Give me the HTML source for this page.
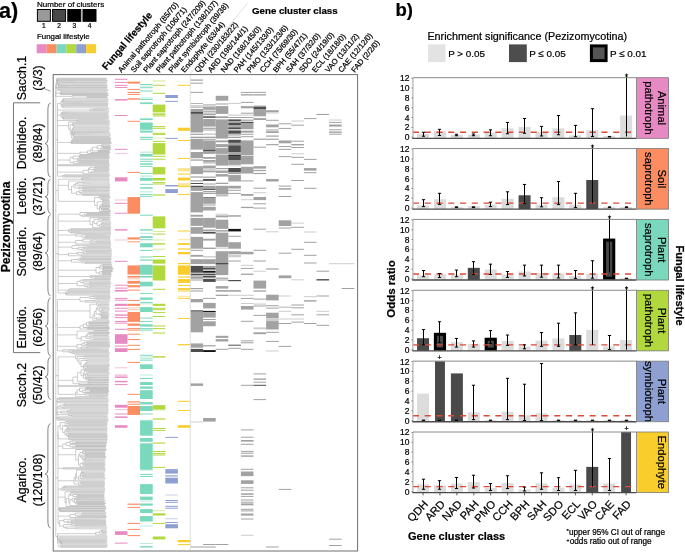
<!DOCTYPE html><html><head><meta charset="utf-8"><style>html,body{margin:0;padding:0;background:#fff;} svg text{stroke:#000;stroke-width:0.22px;}body{width:685px;height:552px;overflow:hidden;}</style></head><body><svg width="685" height="552" viewBox="0 0 685 552" style="display:block;font-family:'Liberation Sans', sans-serif;will-change:transform"><rect x="0" y="0" width="685" height="552" fill="#fff"/><g shape-rendering="auto"><rect x="114.9" y="78.8" width="12.6" height="1" fill="#E78AC3"/><rect x="114.9" y="81.9" width="12.6" height="1" fill="#E78AC3"/><rect x="114.9" y="84.8" width="12.6" height="1" fill="#E78AC3"/><rect x="114.9" y="86.9" width="12.6" height="1" fill="#E78AC3"/><rect x="114.9" y="99.1" width="12.6" height="1.5" fill="#E78AC3"/><rect x="114.9" y="115" width="12.6" height="1" fill="#E78AC3"/><rect x="114.9" y="148.8" width="12.6" height="1" fill="#E78AC3"/><rect x="114.9" y="153.1" width="12.6" height="1" fill="#E78AC3" fill-opacity="0.5"/><rect x="114.9" y="177.3" width="12.6" height="4.1" fill="#E78AC3"/><rect x="114.9" y="199.5" width="12.6" height="1" fill="#E78AC3" fill-opacity="0.5"/><rect x="114.9" y="202.8" width="12.6" height="1" fill="#E78AC3"/><rect x="114.9" y="212.7" width="12.6" height="1" fill="#E78AC3"/><rect x="114.9" y="229.2" width="12.6" height="1.4" fill="#E78AC3"/><rect x="114.9" y="239.5" width="12.6" height="1" fill="#E78AC3" fill-opacity="0.5"/><rect x="114.9" y="260.8" width="12.6" height="1" fill="#E78AC3"/><rect x="114.9" y="284.7" width="12.6" height="1" fill="#E78AC3"/><rect x="114.9" y="287.6" width="12.6" height="1" fill="#E78AC3"/><rect x="114.9" y="289.9" width="12.6" height="1.7" fill="#E78AC3"/><rect x="114.9" y="297.9" width="12.6" height="1" fill="#E78AC3"/><rect x="114.9" y="299.7" width="12.6" height="1" fill="#E78AC3"/><rect x="114.9" y="303.8" width="12.6" height="2.1" fill="#E78AC3"/><rect x="114.9" y="307.8" width="12.6" height="1" fill="#E78AC3"/><rect x="114.9" y="310.6" width="12.6" height="1" fill="#E78AC3"/><rect x="114.9" y="314.4" width="12.6" height="1.4" fill="#E78AC3"/><rect x="114.9" y="317.1" width="12.6" height="1" fill="#E78AC3"/><rect x="114.9" y="320.9" width="12.6" height="1" fill="#E78AC3"/><rect x="114.9" y="322.6" width="12.6" height="1" fill="#E78AC3"/><rect x="114.9" y="328.8" width="12.6" height="1" fill="#E78AC3"/><rect x="114.9" y="334.2" width="12.6" height="9.6" fill="#E78AC3"/><rect x="114.9" y="345.6" width="12.6" height="1" fill="#E78AC3"/><rect x="114.9" y="348.2" width="12.6" height="3.8" fill="#E78AC3"/><rect x="114.9" y="367.3" width="12.6" height="1" fill="#E78AC3" fill-opacity="0.5"/><rect x="114.9" y="374.4" width="12.6" height="3" fill="#E78AC3" fill-opacity="0.5"/><rect x="114.9" y="376.9" width="12.6" height="1" fill="#E78AC3"/><rect x="114.9" y="380.9" width="12.6" height="1.4" fill="#E78AC3"/><rect x="114.9" y="384.1" width="12.6" height="1" fill="#E78AC3"/><rect x="114.9" y="404.8" width="12.6" height="2.9" fill="#E78AC3"/><rect x="114.9" y="409" width="12.6" height="1" fill="#E78AC3" fill-opacity="0.5"/><rect x="114.9" y="413.1" width="12.6" height="1" fill="#E78AC3" fill-opacity="0.5"/><rect x="114.9" y="413.9" width="12.6" height="1" fill="#E78AC3" fill-opacity="0.5"/><rect x="114.9" y="416.4" width="12.6" height="1.5" fill="#E78AC3"/><rect x="114.9" y="425.2" width="12.6" height="2.6" fill="#E78AC3"/><rect x="114.9" y="531.2" width="12.6" height="3.7" fill="#E78AC3"/><rect x="114.9" y="542.6" width="12.6" height="1" fill="#E78AC3"/><rect x="127.5" y="81.6" width="12.6" height="2" fill="#FC8D62"/><rect x="127.5" y="88.9" width="12.6" height="1" fill="#FC8D62"/><rect x="127.5" y="92" width="12.6" height="1" fill="#FC8D62"/><rect x="127.5" y="93.9" width="12.6" height="1" fill="#FC8D62"/><rect x="127.5" y="98.3" width="12.6" height="1.4" fill="#FC8D62"/><rect x="127.5" y="120.8" width="12.6" height="1" fill="#FC8D62"/><rect x="127.5" y="171.9" width="12.6" height="1" fill="#FC8D62"/><rect x="127.5" y="197.1" width="12.6" height="16.6" fill="#FC8D62"/><rect x="127.5" y="237.4" width="12.6" height="2.1" fill="#FC8D62"/><rect x="127.5" y="241" width="12.6" height="1" fill="#FC8D62" fill-opacity="0.5"/><rect x="127.5" y="241.5" width="12.6" height="1" fill="#FC8D62" fill-opacity="0.5"/><rect x="127.5" y="265.4" width="12.6" height="9.1" fill="#FC8D62"/><rect x="127.5" y="275.9" width="12.6" height="1.7" fill="#FC8D62"/><rect x="127.5" y="278.3" width="12.6" height="1" fill="#FC8D62" fill-opacity="0.5"/><rect x="127.5" y="280.9" width="12.6" height="2.8" fill="#FC8D62"/><rect x="127.5" y="285.2" width="12.6" height="2.1" fill="#FC8D62"/><rect x="127.5" y="289.6" width="12.6" height="1" fill="#FC8D62"/><rect x="127.5" y="299.9" width="12.6" height="1" fill="#FC8D62"/><rect x="127.5" y="303.8" width="12.6" height="2.1" fill="#FC8D62"/><rect x="127.5" y="307.4" width="12.6" height="1" fill="#FC8D62" fill-opacity="0.5"/><rect x="127.5" y="309.2" width="12.6" height="1" fill="#FC8D62" fill-opacity="0.5"/><rect x="127.5" y="312" width="12.6" height="9.9" fill="#FC8D62"/><rect x="127.5" y="323.5" width="12.6" height="2.3" fill="#FC8D62"/><rect x="127.5" y="328.1" width="12.6" height="1" fill="#FC8D62"/><rect x="127.5" y="329.6" width="12.6" height="1" fill="#FC8D62"/><rect x="127.5" y="333.7" width="12.6" height="1" fill="#FC8D62"/><rect x="127.5" y="339" width="12.6" height="1" fill="#FC8D62"/><rect x="127.5" y="344.8" width="12.6" height="1" fill="#FC8D62"/><rect x="127.5" y="348.9" width="12.6" height="1" fill="#FC8D62"/><rect x="127.5" y="361.9" width="12.6" height="1" fill="#FC8D62"/><rect x="127.5" y="393.8" width="12.6" height="1" fill="#FC8D62"/><rect x="127.5" y="401.3" width="12.6" height="1.2" fill="#FC8D62"/><rect x="127.5" y="403.7" width="12.6" height="1" fill="#FC8D62"/><rect x="127.5" y="406" width="12.6" height="8.9" fill="#FC8D62"/><rect x="127.5" y="503.6" width="12.6" height="1.2" fill="#FC8D62"/><rect x="127.5" y="506.9" width="12.6" height="1" fill="#FC8D62"/><rect x="127.5" y="522.9" width="12.6" height="1" fill="#FC8D62"/><rect x="127.5" y="528.9" width="12.6" height="1" fill="#FC8D62"/><rect x="127.5" y="535.1" width="12.6" height="1" fill="#FC8D62"/><rect x="140.1" y="84" width="12.6" height="1" fill="#7AD8BC"/><rect x="140.1" y="85.7" width="12.6" height="0.9" fill="#7AD8BC" fill-opacity="0.5"/><rect x="140.1" y="87.2" width="12.6" height="1" fill="#7AD8BC"/><rect x="140.1" y="90.5" width="12.6" height="1" fill="#7AD8BC"/><rect x="140.1" y="97.4" width="12.6" height="1.1" fill="#7AD8BC" fill-opacity="0.5"/><rect x="140.1" y="99" width="12.6" height="1" fill="#7AD8BC"/><rect x="140.1" y="102.4" width="12.6" height="1.7" fill="#7AD8BC"/><rect x="140.1" y="118.4" width="12.6" height="1.7" fill="#7AD8BC"/><rect x="140.1" y="122.5" width="12.6" height="7.3" fill="#7AD8BC"/><rect x="140.1" y="130.6" width="12.6" height="2" fill="#7AD8BC"/><rect x="140.1" y="136.8" width="12.6" height="1.2" fill="#7AD8BC"/><rect x="140.1" y="138.8" width="12.6" height="1" fill="#7AD8BC"/><rect x="140.1" y="151.6" width="12.6" height="1.2" fill="#7AD8BC" fill-opacity="0.5"/><rect x="140.1" y="154" width="12.6" height="2.6" fill="#7AD8BC"/><rect x="140.1" y="158.7" width="12.6" height="1" fill="#7AD8BC"/><rect x="140.1" y="160.8" width="12.6" height="1" fill="#7AD8BC"/><rect x="140.1" y="163.3" width="12.6" height="1.5" fill="#7AD8BC"/><rect x="140.1" y="165.9" width="12.6" height="1" fill="#7AD8BC"/><rect x="140.1" y="172.9" width="12.6" height="1" fill="#7AD8BC"/><rect x="140.1" y="175.5" width="12.6" height="1.2" fill="#7AD8BC" fill-opacity="0.5"/><rect x="140.1" y="177.9" width="12.6" height="2.9" fill="#7AD8BC"/><rect x="140.1" y="183.8" width="12.6" height="1" fill="#7AD8BC"/><rect x="140.1" y="187.2" width="12.6" height="1.5" fill="#7AD8BC"/><rect x="140.1" y="191.3" width="12.6" height="1.1" fill="#7AD8BC" fill-opacity="0.5"/><rect x="140.1" y="193.9" width="12.6" height="1" fill="#7AD8BC"/><rect x="140.1" y="195.8" width="12.6" height="1" fill="#7AD8BC"/><rect x="140.1" y="214.7" width="12.6" height="1" fill="#7AD8BC"/><rect x="140.1" y="229.2" width="12.6" height="1.4" fill="#7AD8BC"/><rect x="140.1" y="232.8" width="12.6" height="1" fill="#7AD8BC" fill-opacity="0.5"/><rect x="140.1" y="236.2" width="12.6" height="1.8" fill="#7AD8BC"/><rect x="140.1" y="239.2" width="12.6" height="1" fill="#7AD8BC"/><rect x="140.1" y="243.2" width="12.6" height="4.1" fill="#7AD8BC"/><rect x="140.1" y="249.9" width="12.6" height="1" fill="#7AD8BC"/><rect x="140.1" y="256.5" width="12.6" height="1" fill="#7AD8BC"/><rect x="140.1" y="259.5" width="12.6" height="1.2" fill="#7AD8BC"/><rect x="140.1" y="264.8" width="12.6" height="9.9" fill="#7AD8BC"/><rect x="140.1" y="275.9" width="12.6" height="1.7" fill="#7AD8BC"/><rect x="140.1" y="281.7" width="12.6" height="4.7" fill="#7AD8BC"/><rect x="140.1" y="292.9" width="12.6" height="1" fill="#7AD8BC"/><rect x="140.1" y="297.5" width="12.6" height="2.3" fill="#7AD8BC"/><rect x="140.1" y="301.9" width="12.6" height="1" fill="#7AD8BC"/><rect x="140.1" y="303.3" width="12.6" height="1" fill="#7AD8BC" fill-opacity="0.5"/><rect x="140.1" y="307.1" width="12.6" height="4.9" fill="#7AD8BC"/><rect x="140.1" y="317.6" width="12.6" height="1" fill="#7AD8BC"/><rect x="140.1" y="320.9" width="12.6" height="1" fill="#7AD8BC"/><rect x="140.1" y="324.3" width="12.6" height="2.3" fill="#7AD8BC"/><rect x="140.1" y="328.1" width="12.6" height="1" fill="#7AD8BC"/><rect x="140.1" y="329.6" width="12.6" height="1" fill="#7AD8BC"/><rect x="140.1" y="354.8" width="12.6" height="1" fill="#7AD8BC"/><rect x="140.1" y="356.5" width="12.6" height="1" fill="#7AD8BC" fill-opacity="0.5"/><rect x="140.1" y="357.9" width="12.6" height="1" fill="#7AD8BC" fill-opacity="0.5"/><rect x="140.1" y="359.6" width="12.6" height="1" fill="#7AD8BC"/><rect x="140.1" y="364.3" width="12.6" height="4.7" fill="#7AD8BC"/><rect x="140.1" y="374.5" width="12.6" height="1" fill="#7AD8BC" fill-opacity="0.5"/><rect x="140.1" y="378" width="12.6" height="1" fill="#7AD8BC"/><rect x="140.1" y="382" width="12.6" height="3" fill="#7AD8BC"/><rect x="140.1" y="386.5" width="12.6" height="2.3" fill="#7AD8BC"/><rect x="140.1" y="390.2" width="12.6" height="8.8" fill="#7AD8BC"/><rect x="140.1" y="402.1" width="12.6" height="2.4" fill="#7AD8BC"/><rect x="140.1" y="406" width="12.6" height="5" fill="#7AD8BC"/><rect x="140.1" y="413.1" width="12.6" height="1" fill="#7AD8BC" fill-opacity="0.5"/><rect x="140.1" y="413.9" width="12.6" height="1" fill="#7AD8BC" fill-opacity="0.5"/><rect x="140.1" y="420.3" width="12.6" height="15.4" fill="#7AD8BC"/><rect x="140.1" y="438" width="12.6" height="3.8" fill="#7AD8BC"/><rect x="140.1" y="443.3" width="12.6" height="26" fill="#7AD8BC"/><rect x="140.1" y="469.3" width="12.6" height="1" fill="#7AD8BC"/><rect x="140.1" y="473.9" width="12.6" height="1" fill="#7AD8BC"/><rect x="140.1" y="476" width="12.6" height="1" fill="#7AD8BC"/><rect x="140.1" y="484.1" width="12.6" height="9.9" fill="#7AD8BC"/><rect x="140.1" y="496.6" width="12.6" height="3.3" fill="#7AD8BC"/><rect x="140.1" y="500.5" width="12.6" height="1" fill="#7AD8BC" fill-opacity="0.5"/><rect x="140.1" y="503.5" width="12.6" height="2.1" fill="#7AD8BC"/><rect x="140.1" y="509.1" width="12.6" height="3.9" fill="#7AD8BC"/><rect x="140.1" y="516.1" width="12.6" height="5.4" fill="#7AD8BC"/><rect x="140.1" y="525.5" width="12.6" height="1" fill="#7AD8BC" fill-opacity="0.5"/><rect x="140.1" y="543" width="12.6" height="1" fill="#7AD8BC" fill-opacity="0.5"/><rect x="140.1" y="546.1" width="12.6" height="1.4" fill="#7AD8BC"/><rect x="152.7" y="80.4" width="12.6" height="1.2" fill="#B1D83C" fill-opacity="0.5"/><rect x="152.7" y="84.8" width="12.6" height="1" fill="#B1D83C"/><rect x="152.7" y="92.8" width="12.6" height="1" fill="#B1D83C"/><rect x="152.7" y="104.6" width="12.6" height="7.4" fill="#B1D83C"/><rect x="152.7" y="112.6" width="12.6" height="1" fill="#B1D83C"/><rect x="152.7" y="114" width="12.6" height="1" fill="#B1D83C"/><rect x="152.7" y="115.5" width="12.6" height="1" fill="#B1D83C"/><rect x="152.7" y="126.1" width="12.6" height="1" fill="#B1D83C"/><rect x="152.7" y="127.8" width="12.6" height="1" fill="#B1D83C"/><rect x="152.7" y="132.8" width="12.6" height="1" fill="#B1D83C"/><rect x="152.7" y="133.9" width="12.6" height="1" fill="#B1D83C"/><rect x="152.7" y="137.6" width="12.6" height="0.8" fill="#B1D83C" fill-opacity="0.5"/><rect x="152.7" y="140.9" width="12.6" height="1" fill="#B1D83C"/><rect x="152.7" y="143.1" width="12.6" height="11.4" fill="#B1D83C"/><rect x="152.7" y="155.8" width="12.6" height="1" fill="#B1D83C"/><rect x="152.7" y="158.7" width="12.6" height="1" fill="#B1D83C"/><rect x="152.7" y="167.1" width="12.6" height="7.3" fill="#B1D83C"/><rect x="152.7" y="177.9" width="12.6" height="2.6" fill="#B1D83C"/><rect x="152.7" y="182.1" width="12.6" height="1" fill="#B1D83C"/><rect x="152.7" y="183.5" width="12.6" height="1" fill="#B1D83C"/><rect x="152.7" y="194.4" width="12.6" height="1.2" fill="#B1D83C"/><rect x="152.7" y="216.4" width="12.6" height="11.9" fill="#B1D83C"/><rect x="152.7" y="231" width="12.6" height="1" fill="#B1D83C" fill-opacity="0.5"/><rect x="152.7" y="233.6" width="12.6" height="1" fill="#B1D83C"/><rect x="152.7" y="239.5" width="12.6" height="1" fill="#B1D83C" fill-opacity="0.5"/><rect x="152.7" y="243.2" width="12.6" height="1.4" fill="#B1D83C"/><rect x="152.7" y="248.7" width="12.6" height="1" fill="#B1D83C" fill-opacity="0.5"/><rect x="152.7" y="256" width="12.6" height="1" fill="#B1D83C"/><rect x="152.7" y="259.5" width="12.6" height="4.1" fill="#B1D83C"/><rect x="152.7" y="265.4" width="12.6" height="15.1" fill="#B1D83C"/><rect x="152.7" y="288.8" width="12.6" height="1" fill="#B1D83C"/><rect x="152.7" y="303.8" width="12.6" height="2.1" fill="#B1D83C"/><rect x="152.7" y="307.8" width="12.6" height="1" fill="#B1D83C"/><rect x="152.7" y="309.2" width="12.6" height="1" fill="#B1D83C"/><rect x="152.7" y="312.1" width="12.6" height="1" fill="#B1D83C"/><rect x="152.7" y="316" width="12.6" height="1" fill="#B1D83C"/><rect x="152.7" y="325.5" width="12.6" height="1" fill="#B1D83C"/><rect x="152.7" y="328.1" width="12.6" height="1" fill="#B1D83C"/><rect x="152.7" y="332.5" width="12.6" height="1" fill="#B1D83C"/><rect x="152.7" y="356.2" width="12.6" height="1.4" fill="#B1D83C"/><rect x="152.7" y="405.2" width="12.6" height="4.3" fill="#B1D83C"/><rect x="152.7" y="409.5" width="12.6" height="1" fill="#B1D83C" fill-opacity="0.5"/><rect x="152.7" y="418.4" width="12.6" height="1.2" fill="#B1D83C"/><rect x="152.7" y="428" width="12.6" height="1" fill="#B1D83C"/><rect x="152.7" y="429.9" width="12.6" height="1" fill="#B1D83C"/><rect x="152.7" y="442.5" width="12.6" height="1.1" fill="#B1D83C"/><rect x="152.7" y="451" width="12.6" height="1" fill="#B1D83C"/><rect x="152.7" y="452.9" width="12.6" height="1" fill="#B1D83C"/><rect x="152.7" y="454.5" width="12.6" height="1" fill="#B1D83C"/><rect x="152.7" y="466.9" width="12.6" height="1" fill="#B1D83C"/><rect x="152.7" y="510.2" width="12.6" height="1" fill="#B1D83C" fill-opacity="0.5"/><rect x="152.7" y="513.3" width="12.6" height="2.2" fill="#B1D83C"/><rect x="152.7" y="522.9" width="12.6" height="1" fill="#B1D83C"/><rect x="152.7" y="536.5" width="12.6" height="2.9" fill="#B1D83C"/><rect x="165.3" y="95" width="12.6" height="3" fill="#8E9FD2"/><rect x="165.3" y="100.9" width="12.6" height="1" fill="#8E9FD2"/><rect x="165.3" y="137.9" width="12.6" height="1" fill="#8E9FD2"/><rect x="165.3" y="185" width="12.6" height="1" fill="#8E9FD2"/><rect x="165.3" y="185.8" width="12.6" height="1" fill="#8E9FD2" fill-opacity="0.5"/><rect x="165.3" y="189.1" width="12.6" height="3.9" fill="#8E9FD2"/><rect x="165.3" y="436.9" width="12.6" height="1" fill="#8E9FD2"/><rect x="165.3" y="469.1" width="12.6" height="1" fill="#8E9FD2"/><rect x="165.3" y="470.1" width="12.6" height="3.5" fill="#8E9FD2"/><rect x="165.3" y="475.3" width="12.6" height="1.2" fill="#8E9FD2"/><rect x="165.3" y="477.7" width="12.6" height="5.8" fill="#8E9FD2"/><rect x="165.3" y="494.5" width="12.6" height="1" fill="#8E9FD2" fill-opacity="0.5"/><rect x="165.3" y="500" width="12.6" height="1" fill="#8E9FD2"/><rect x="165.3" y="501.8" width="12.6" height="1" fill="#8E9FD2"/><rect x="165.3" y="505.8" width="12.6" height="1" fill="#8E9FD2"/><rect x="165.3" y="507.7" width="12.6" height="1" fill="#8E9FD2"/><rect x="165.3" y="518.3" width="12.6" height="1" fill="#8E9FD2" fill-opacity="0.5"/><rect x="165.3" y="522" width="12.6" height="1" fill="#8E9FD2"/><rect x="165.3" y="524.2" width="12.6" height="4.1" fill="#8E9FD2"/><rect x="177.9" y="84.8" width="12.6" height="1" fill="#F8CD2C"/><rect x="177.9" y="127.7" width="12.6" height="2.3" fill="#F8CD2C"/><rect x="177.9" y="129.8" width="12.6" height="1" fill="#F8CD2C"/><rect x="177.9" y="140" width="12.6" height="1" fill="#F8CD2C"/><rect x="177.9" y="157.9" width="12.6" height="1" fill="#F8CD2C"/><rect x="177.9" y="168" width="12.6" height="3.5" fill="#F8CD2C" fill-opacity="0.5"/><rect x="177.9" y="173.6" width="12.6" height="1" fill="#F8CD2C"/><rect x="177.9" y="177.6" width="12.6" height="2.9" fill="#F8CD2C"/><rect x="177.9" y="183.1" width="12.6" height="3.5" fill="#F8CD2C" fill-opacity="0.5"/><rect x="177.9" y="186.1" width="12.6" height="1" fill="#F8CD2C"/><rect x="177.9" y="193.9" width="12.6" height="1" fill="#F8CD2C"/><rect x="177.9" y="230.5" width="12.6" height="1" fill="#F8CD2C"/><rect x="177.9" y="239.2" width="12.6" height="1" fill="#F8CD2C" fill-opacity="0.5"/><rect x="177.9" y="243.2" width="12.6" height="1.8" fill="#F8CD2C"/><rect x="177.9" y="248.4" width="12.6" height="1.2" fill="#F8CD2C"/><rect x="177.9" y="252" width="12.6" height="2.3" fill="#F8CD2C"/><rect x="177.9" y="263" width="12.6" height="1.2" fill="#F8CD2C"/><rect x="177.9" y="265.4" width="12.6" height="9.3" fill="#F8CD2C"/><rect x="177.9" y="276.5" width="12.6" height="1.1" fill="#F8CD2C"/><rect x="177.9" y="279.1" width="12.6" height="3.8" fill="#F8CD2C"/><rect x="177.9" y="284.9" width="12.6" height="1" fill="#F8CD2C"/><rect x="177.9" y="288.1" width="12.6" height="1.8" fill="#F8CD2C"/><rect x="177.9" y="290.5" width="12.6" height="1" fill="#F8CD2C"/><rect x="177.9" y="295.8" width="12.6" height="1" fill="#F8CD2C" fill-opacity="0.5"/><rect x="177.9" y="297.8" width="12.6" height="1" fill="#F8CD2C"/><rect x="177.9" y="317.9" width="12.6" height="1" fill="#F8CD2C"/><rect x="177.9" y="344.1" width="12.6" height="1.2" fill="#F8CD2C"/><rect x="177.9" y="400.8" width="12.6" height="1" fill="#F8CD2C"/><rect x="177.9" y="410" width="12.6" height="1" fill="#F8CD2C"/><rect x="177.9" y="425.2" width="12.6" height="2.6" fill="#F8CD2C"/><rect x="177.9" y="540" width="12.6" height="2.3" fill="#F8CD2C"/><rect x="177.9" y="544.1" width="12.6" height="1" fill="#F8CD2C"/><rect x="190.5" y="79.5" width="12.6" height="1.2" fill="#A2A2A2"/><rect x="190.5" y="82.7" width="12.6" height="1" fill="#A2A2A2"/><rect x="190.5" y="91.9" width="12.6" height="1" fill="#A2A2A2"/><rect x="190.5" y="103.2" width="12.6" height="0.8" fill="#A2A2A2"/><rect x="190.5" y="105.1" width="12.6" height="1" fill="#CDCDCD"/><rect x="190.5" y="106.6" width="12.6" height="1" fill="#A2A2A2"/><rect x="190.5" y="109" width="12.6" height="3" fill="#A2A2A2"/><rect x="190.5" y="112" width="12.6" height="1.9" fill="#4E4E4E"/><rect x="190.5" y="113.9" width="12.6" height="18.6" fill="#A2A2A2"/><rect x="190.5" y="133.7" width="12.6" height="1.2" fill="#A2A2A2"/><rect x="190.5" y="136.7" width="12.6" height="1.3" fill="#A2A2A2"/><rect x="190.5" y="138.8" width="12.6" height="10.8" fill="#A2A2A2"/><rect x="190.5" y="152" width="12.6" height="6.2" fill="#A2A2A2"/><rect x="190.5" y="159.4" width="12.6" height="1.3" fill="#A2A2A2"/><rect x="190.5" y="166.2" width="12.6" height="7.9" fill="#A2A2A2"/><rect x="190.5" y="176.4" width="12.6" height="1.2" fill="#A2A2A2"/><rect x="190.5" y="180.3" width="12.6" height="1.2" fill="#A2A2A2"/><rect x="190.5" y="183" width="12.6" height="1" fill="#4E4E4E"/><rect x="190.5" y="185.8" width="12.6" height="1.2" fill="#4E4E4E"/><rect x="190.5" y="187" width="12.6" height="3.9" fill="#A2A2A2"/><rect x="190.5" y="192.1" width="12.6" height="20.3" fill="#A2A2A2"/><rect x="190.5" y="214.8" width="12.6" height="1.9" fill="#A2A2A2"/><rect x="190.5" y="217.9" width="12.6" height="8" fill="#A2A2A2"/><rect x="190.5" y="227.1" width="12.6" height="6.7" fill="#A2A2A2"/><rect x="190.5" y="236.9" width="12.6" height="11.8" fill="#A2A2A2"/><rect x="190.5" y="249.8" width="12.6" height="1" fill="#A2A2A2"/><rect x="190.5" y="254.9" width="12.6" height="1.8" fill="#A2A2A2"/><rect x="190.5" y="259.2" width="12.6" height="4.9" fill="#A2A2A2"/><rect x="190.5" y="265.9" width="12.6" height="6.8" fill="#4E4E4E"/><rect x="190.5" y="273.6" width="12.6" height="1.8" fill="#4E4E4E"/><rect x="190.5" y="276.3" width="12.6" height="2.5" fill="#A2A2A2"/><rect x="190.5" y="279.5" width="12.6" height="1" fill="#A2A2A2"/><rect x="190.5" y="288" width="12.6" height="1.2" fill="#A2A2A2"/><rect x="190.5" y="290.5" width="12.6" height="1" fill="#A2A2A2"/><rect x="190.5" y="299" width="12.6" height="3.3" fill="#A2A2A2"/><rect x="190.5" y="310.3" width="12.6" height="1.4" fill="#4E4E4E"/><rect x="190.5" y="311.7" width="12.6" height="20.6" fill="#A2A2A2"/><rect x="190.5" y="343.4" width="12.6" height="4.3" fill="#A2A2A2"/><rect x="190.5" y="348.9" width="12.6" height="3.1" fill="#4E4E4E"/><rect x="190.5" y="383.4" width="12.6" height="2.5" fill="#A2A2A2"/><rect x="190.5" y="421.5" width="12.6" height="1" fill="#CDCDCD"/><rect x="190.5" y="546.5" width="12.6" height="1" fill="#A2A2A2"/><rect x="203.1" y="104.4" width="12.6" height="1" fill="#A2A2A2"/><rect x="203.1" y="105.8" width="12.6" height="1.2" fill="#CDCDCD"/><rect x="203.1" y="107.1" width="12.6" height="2.7" fill="#A2A2A2"/><rect x="203.1" y="110.6" width="12.6" height="1.2" fill="#A2A2A2"/><rect x="203.1" y="112.2" width="12.6" height="1.4" fill="#CDCDCD"/><rect x="203.1" y="113.7" width="12.6" height="1.5" fill="#A2A2A2"/><rect x="203.1" y="116.3" width="12.6" height="1.5" fill="#4E4E4E"/><rect x="203.1" y="119" width="12.6" height="7.6" fill="#A2A2A2"/><rect x="203.1" y="127.7" width="12.6" height="1.2" fill="#A2A2A2"/><rect x="203.1" y="129.5" width="12.6" height="1" fill="#A2A2A2"/><rect x="203.1" y="133.4" width="12.6" height="1.6" fill="#CDCDCD"/><rect x="203.1" y="136.7" width="12.6" height="1.3" fill="#A2A2A2"/><rect x="203.1" y="138.8" width="12.6" height="1" fill="#A2A2A2"/><rect x="203.1" y="140.4" width="12.6" height="9.2" fill="#A2A2A2"/><rect x="203.1" y="149.6" width="12.6" height="1.9" fill="#4E4E4E"/><rect x="203.1" y="151.5" width="12.6" height="2.4" fill="#A2A2A2"/><rect x="203.1" y="157" width="12.6" height="1.8" fill="#A2A2A2"/><rect x="203.1" y="160" width="12.6" height="1.9" fill="#A2A2A2"/><rect x="203.1" y="162.4" width="12.6" height="1" fill="#A2A2A2"/><rect x="203.1" y="165.6" width="12.6" height="2.4" fill="#A2A2A2"/><rect x="203.1" y="168.5" width="12.6" height="1" fill="#A2A2A2"/><rect x="203.1" y="170.5" width="12.6" height="1.8" fill="#A2A2A2"/><rect x="203.1" y="176.6" width="12.6" height="1.2" fill="#A2A2A2"/><rect x="203.1" y="179" width="12.6" height="1.9" fill="#4E4E4E"/><rect x="203.1" y="183.5" width="12.6" height="1" fill="#A2A2A2"/><rect x="203.1" y="185.8" width="12.6" height="3.1" fill="#A2A2A2"/><rect x="203.1" y="188.9" width="12.6" height="1" fill="#4E4E4E"/><rect x="203.1" y="190.9" width="12.6" height="1.2" fill="#A2A2A2"/><rect x="203.1" y="192.7" width="12.6" height="1.3" fill="#A2A2A2"/><rect x="203.1" y="197.3" width="12.6" height="0.7" fill="#4E4E4E"/><rect x="203.1" y="198" width="12.6" height="5.8" fill="#A2A2A2"/><rect x="203.1" y="204.5" width="12.6" height="1" fill="#A2A2A2"/><rect x="203.1" y="206.8" width="12.6" height="3.7" fill="#A2A2A2"/><rect x="203.1" y="217.9" width="12.6" height="9.8" fill="#A2A2A2"/><rect x="203.1" y="229.5" width="12.6" height="1.9" fill="#A2A2A2"/><rect x="203.1" y="232" width="12.6" height="1.6" fill="#4E4E4E"/><rect x="203.1" y="238.7" width="12.6" height="1.9" fill="#A2A2A2"/><rect x="203.1" y="247.6" width="12.6" height="1.4" fill="#A2A2A2"/><rect x="203.1" y="256.1" width="12.6" height="1.4" fill="#CDCDCD"/><rect x="203.1" y="259.2" width="12.6" height="4.9" fill="#A2A2A2"/><rect x="203.1" y="265.9" width="12.6" height="1.9" fill="#A2A2A2"/><rect x="203.1" y="267.8" width="12.6" height="1.8" fill="#4E4E4E"/><rect x="203.1" y="270.8" width="12.6" height="1.9" fill="#151515"/><rect x="203.1" y="273.6" width="12.6" height="1.5" fill="#4E4E4E"/><rect x="203.1" y="275.7" width="12.6" height="1.9" fill="#4E4E4E"/><rect x="203.1" y="278.8" width="12.6" height="3.1" fill="#4E4E4E"/><rect x="203.1" y="297.9" width="12.6" height="1" fill="#A2A2A2"/><rect x="203.1" y="302.9" width="12.6" height="5.5" fill="#A2A2A2"/><rect x="203.1" y="310.9" width="12.6" height="1.2" fill="#151515"/><rect x="203.1" y="312.1" width="12.6" height="5.5" fill="#A2A2A2"/><rect x="203.1" y="319" width="12.6" height="1" fill="#A2A2A2"/><rect x="203.1" y="321.3" width="12.6" height="4.9" fill="#A2A2A2"/><rect x="203.1" y="345.2" width="12.6" height="1.2" fill="#A2A2A2"/><rect x="203.1" y="350.1" width="12.6" height="1.9" fill="#151515"/><rect x="203.1" y="418" width="12.6" height="3.6" fill="#A2A2A2"/><rect x="203.1" y="544" width="12.6" height="1" fill="#A2A2A2"/><rect x="203.1" y="546.5" width="12.6" height="1" fill="#A2A2A2"/><rect x="215.7" y="95.8" width="12.6" height="4.9" fill="#A2A2A2"/><rect x="215.7" y="103.5" width="12.6" height="1" fill="#A2A2A2"/><rect x="215.7" y="106.1" width="12.6" height="7.8" fill="#A2A2A2"/><rect x="215.7" y="116.3" width="12.6" height="1.8" fill="#A2A2A2"/><rect x="215.7" y="119.4" width="12.6" height="19.2" fill="#A2A2A2"/><rect x="215.7" y="140.4" width="12.6" height="1.9" fill="#A2A2A2"/><rect x="215.7" y="144.1" width="12.6" height="3.1" fill="#A2A2A2"/><rect x="215.7" y="148.1" width="12.6" height="5.8" fill="#A2A2A2"/><rect x="215.7" y="154.5" width="12.6" height="11.1" fill="#A2A2A2"/><rect x="215.7" y="168" width="12.6" height="1.2" fill="#A2A2A2"/><rect x="215.7" y="170.5" width="12.6" height="2.4" fill="#A2A2A2"/><rect x="215.7" y="174.1" width="12.6" height="2.5" fill="#A2A2A2"/><rect x="215.7" y="182.7" width="12.6" height="1.3" fill="#A2A2A2"/><rect x="215.7" y="185.8" width="12.6" height="8.8" fill="#A2A2A2"/><rect x="215.7" y="195.3" width="12.6" height="1" fill="#A2A2A2"/><rect x="215.7" y="213.7" width="12.6" height="1" fill="#CDCDCD"/><rect x="215.7" y="215.4" width="12.6" height="1.9" fill="#A2A2A2"/><rect x="215.7" y="219.7" width="12.6" height="9.2" fill="#A2A2A2"/><rect x="215.7" y="230.1" width="12.6" height="1.5" fill="#A2A2A2"/><rect x="215.7" y="232.6" width="12.6" height="14.3" fill="#A2A2A2"/><rect x="215.7" y="247.5" width="12.6" height="1.2" fill="#CDCDCD"/><rect x="215.7" y="251.2" width="12.6" height="11.6" fill="#A2A2A2"/><rect x="215.7" y="262.8" width="12.6" height="1.9" fill="#4E4E4E"/><rect x="215.7" y="264.7" width="12.6" height="10.4" fill="#A2A2A2"/><rect x="215.7" y="277.6" width="12.6" height="1.2" fill="#A2A2A2"/><rect x="215.7" y="279.5" width="12.6" height="1" fill="#A2A2A2"/><rect x="215.7" y="286.1" width="12.6" height="2.5" fill="#A2A2A2"/><rect x="215.7" y="290.1" width="12.6" height="1.6" fill="#A2A2A2"/><rect x="215.7" y="294.7" width="12.6" height="1.3" fill="#A2A2A2"/><rect x="215.7" y="335.8" width="12.6" height="2.1" fill="#A2A2A2"/><rect x="215.7" y="339.1" width="12.6" height="2.4" fill="#A2A2A2"/><rect x="215.7" y="348.8" width="12.6" height="1" fill="#A2A2A2"/><rect x="215.7" y="544" width="12.6" height="1" fill="#A2A2A2"/><rect x="228.3" y="102.9" width="12.6" height="1" fill="#CDCDCD"/><rect x="228.3" y="114.5" width="12.6" height="1.2" fill="#CDCDCD"/><rect x="228.3" y="117" width="12.6" height="1" fill="#A2A2A2"/><rect x="228.3" y="119.4" width="12.6" height="1.8" fill="#4E4E4E"/><rect x="228.3" y="121.2" width="12.6" height="1.8" fill="#A2A2A2"/><rect x="228.3" y="123" width="12.6" height="2.5" fill="#4E4E4E"/><rect x="228.3" y="126.1" width="12.6" height="1.2" fill="#A2A2A2"/><rect x="228.3" y="127.3" width="12.6" height="1.9" fill="#4E4E4E"/><rect x="228.3" y="129.8" width="12.6" height="0.8" fill="#A2A2A2"/><rect x="228.3" y="130.6" width="12.6" height="3.1" fill="#4E4E4E"/><rect x="228.3" y="134.3" width="12.6" height="1.2" fill="#A2A2A2"/><rect x="228.3" y="136.7" width="12.6" height="1.3" fill="#A2A2A2"/><rect x="228.3" y="139.8" width="12.6" height="3.1" fill="#4E4E4E"/><rect x="228.3" y="142.9" width="12.6" height="2.4" fill="#A2A2A2"/><rect x="228.3" y="145.3" width="12.6" height="6.8" fill="#4E4E4E"/><rect x="228.3" y="152.1" width="12.6" height="3" fill="#A2A2A2"/><rect x="228.3" y="155.1" width="12.6" height="1.6" fill="#151515"/><rect x="228.3" y="156.7" width="12.6" height="3.3" fill="#4E4E4E"/><rect x="228.3" y="160" width="12.6" height="4.9" fill="#A2A2A2"/><rect x="228.3" y="165.3" width="12.6" height="1" fill="#CDCDCD"/><rect x="228.3" y="168" width="12.6" height="4.3" fill="#4E4E4E"/><rect x="228.3" y="172.3" width="12.6" height="1.8" fill="#A2A2A2"/><rect x="228.3" y="175.5" width="12.6" height="1" fill="#4E4E4E"/><rect x="228.3" y="176.6" width="12.6" height="4.9" fill="#A2A2A2"/><rect x="228.3" y="185.8" width="12.6" height="2.7" fill="#A2A2A2"/><rect x="228.3" y="189.8" width="12.6" height="1" fill="#A2A2A2"/><rect x="228.3" y="192.9" width="12.6" height="1" fill="#A2A2A2"/><rect x="228.3" y="215.2" width="12.6" height="1.5" fill="#A2A2A2"/><rect x="228.3" y="228.9" width="12.6" height="2.5" fill="#151515"/><rect x="228.3" y="235.8" width="12.6" height="1" fill="#A2A2A2"/><rect x="228.3" y="242.2" width="12.6" height="6.5" fill="#A2A2A2"/><rect x="228.3" y="251.2" width="12.6" height="3.1" fill="#A2A2A2"/><rect x="228.3" y="254.9" width="12.6" height="2.4" fill="#CDCDCD"/><rect x="228.3" y="260.5" width="12.6" height="1" fill="#A2A2A2"/><rect x="228.3" y="280" width="12.6" height="1.2" fill="#4E4E4E"/><rect x="228.3" y="290.1" width="12.6" height="1.6" fill="#A2A2A2"/><rect x="228.3" y="294.8" width="12.6" height="1" fill="#CDCDCD"/><rect x="228.3" y="344.7" width="12.6" height="1" fill="#4E4E4E"/><rect x="228.3" y="347.8" width="12.6" height="1" fill="#A2A2A2"/><rect x="240.9" y="91.9" width="12.6" height="1" fill="#A2A2A2"/><rect x="240.9" y="94.2" width="12.6" height="1.3" fill="#A2A2A2"/><rect x="240.9" y="101.9" width="12.6" height="1" fill="#A2A2A2"/><rect x="240.9" y="106.1" width="12.6" height="2.2" fill="#A2A2A2"/><rect x="240.9" y="112.7" width="12.6" height="1" fill="#A2A2A2"/><rect x="240.9" y="114.6" width="12.6" height="1" fill="#CDCDCD"/><rect x="240.9" y="117" width="12.6" height="1" fill="#A2A2A2"/><rect x="240.9" y="119.6" width="12.6" height="1.2" fill="#A2A2A2"/><rect x="240.9" y="121.8" width="12.6" height="1.2" fill="#4E4E4E"/><rect x="240.9" y="123" width="12.6" height="6.2" fill="#A2A2A2"/><rect x="240.9" y="130.6" width="12.6" height="2.1" fill="#A2A2A2"/><rect x="240.9" y="133.8" width="12.6" height="1" fill="#A2A2A2"/><rect x="240.9" y="136.2" width="12.6" height="1" fill="#A2A2A2"/><rect x="240.9" y="140.4" width="12.6" height="14.6" fill="#A2A2A2"/><rect x="240.9" y="155.6" width="12.6" height="8.7" fill="#A2A2A2"/><rect x="240.9" y="166.8" width="12.6" height="6.7" fill="#A2A2A2"/><rect x="240.9" y="180.4" width="12.6" height="1" fill="#A2A2A2"/><rect x="240.9" y="194" width="12.6" height="1.8" fill="#A2A2A2"/><rect x="240.9" y="199.2" width="12.6" height="1" fill="#CDCDCD"/><rect x="240.9" y="206.8" width="12.6" height="1.3" fill="#A2A2A2"/><rect x="240.9" y="251.8" width="12.6" height="2.5" fill="#A2A2A2"/><rect x="240.9" y="264.8" width="12.6" height="1" fill="#CDCDCD"/><rect x="240.9" y="267.9" width="12.6" height="1" fill="#A2A2A2"/><rect x="240.9" y="273.6" width="12.6" height="1.3" fill="#A2A2A2"/><rect x="240.9" y="294.8" width="12.6" height="1" fill="#CDCDCD"/><rect x="240.9" y="297.9" width="12.6" height="1" fill="#A2A2A2"/><rect x="240.9" y="303" width="12.6" height="1" fill="#CDCDCD"/><rect x="240.9" y="306" width="12.6" height="3.6" fill="#A2A2A2"/><rect x="240.9" y="320.8" width="12.6" height="1" fill="#A2A2A2"/><rect x="240.9" y="340.4" width="12.6" height="1" fill="#A2A2A2"/><rect x="240.9" y="342.3" width="12.6" height="1" fill="#A2A2A2"/><rect x="240.9" y="348.8" width="12.6" height="1" fill="#A2A2A2"/><rect x="240.9" y="384.8" width="12.6" height="1" fill="#A2A2A2"/><rect x="240.9" y="429.4" width="12.6" height="1" fill="#A2A2A2"/><rect x="240.9" y="436.7" width="12.6" height="1" fill="#A2A2A2"/><rect x="240.9" y="440" width="12.6" height="1.6" fill="#A2A2A2"/><rect x="240.9" y="443.8" width="12.6" height="1" fill="#A2A2A2"/><rect x="240.9" y="450.9" width="12.6" height="1" fill="#A2A2A2"/><rect x="240.9" y="452.7" width="12.6" height="1" fill="#A2A2A2"/><rect x="240.9" y="455.4" width="12.6" height="1.4" fill="#A2A2A2"/><rect x="240.9" y="468.8" width="12.6" height="1" fill="#A2A2A2"/><rect x="240.9" y="471.5" width="12.6" height="4.6" fill="#A2A2A2"/><rect x="240.9" y="480.3" width="12.6" height="3.6" fill="#A2A2A2"/><rect x="240.9" y="487.3" width="12.6" height="1" fill="#A2A2A2"/><rect x="240.9" y="489.7" width="12.6" height="1" fill="#A2A2A2"/><rect x="240.9" y="493.3" width="12.6" height="1.5" fill="#A2A2A2"/><rect x="240.9" y="495.9" width="12.6" height="1" fill="#A2A2A2"/><rect x="240.9" y="499.5" width="12.6" height="1" fill="#A2A2A2"/><rect x="240.9" y="501.7" width="12.6" height="1" fill="#A2A2A2"/><rect x="240.9" y="503.4" width="12.6" height="1.9" fill="#A2A2A2"/><rect x="240.9" y="508.8" width="12.6" height="1" fill="#A2A2A2"/><rect x="240.9" y="510.4" width="12.6" height="1" fill="#A2A2A2"/><rect x="240.9" y="513.5" width="12.6" height="2.1" fill="#A2A2A2"/><rect x="240.9" y="518.5" width="12.6" height="1" fill="#A2A2A2"/><rect x="240.9" y="534.8" width="12.6" height="1" fill="#CDCDCD"/><rect x="253.5" y="91.9" width="12.6" height="1" fill="#A2A2A2"/><rect x="253.5" y="94.2" width="12.6" height="1.3" fill="#A2A2A2"/><rect x="253.5" y="105.6" width="12.6" height="1.3" fill="#A2A2A2"/><rect x="253.5" y="106.9" width="12.6" height="2.1" fill="#4E4E4E"/><rect x="253.5" y="109" width="12.6" height="7.3" fill="#A2A2A2"/><rect x="253.5" y="118.1" width="12.6" height="1.9" fill="#A2A2A2"/><rect x="253.5" y="138.6" width="12.6" height="1.2" fill="#A2A2A2"/><rect x="253.5" y="146.7" width="12.6" height="1" fill="#A2A2A2"/><rect x="253.5" y="166.2" width="12.6" height="2.4" fill="#A2A2A2"/><rect x="253.5" y="169.9" width="12.6" height="1.2" fill="#A2A2A2"/><rect x="253.5" y="172.9" width="12.6" height="1.2" fill="#A2A2A2"/><rect x="253.5" y="187.7" width="12.6" height="1" fill="#A2A2A2"/><rect x="253.5" y="192.2" width="12.6" height="1" fill="#CDCDCD"/><rect x="253.5" y="197" width="12.6" height="3.1" fill="#A2A2A2"/><rect x="253.5" y="203.3" width="12.6" height="1" fill="#A2A2A2"/><rect x="253.5" y="207.6" width="12.6" height="1" fill="#A2A2A2"/><rect x="253.5" y="228.7" width="12.6" height="1" fill="#A2A2A2"/><rect x="253.5" y="249.8" width="12.6" height="1" fill="#A2A2A2"/><rect x="253.5" y="260.5" width="12.6" height="1" fill="#A2A2A2"/><rect x="253.5" y="270.7" width="12.6" height="1" fill="#CDCDCD"/><rect x="253.5" y="280.6" width="12.6" height="8" fill="#A2A2A2"/><rect x="253.5" y="290.4" width="12.6" height="1.3" fill="#A2A2A2"/><rect x="253.5" y="298.6" width="12.6" height="1" fill="#A2A2A2"/><rect x="253.5" y="303.5" width="12.6" height="1.2" fill="#CDCDCD"/><rect x="253.5" y="305.5" width="12.6" height="1" fill="#A2A2A2"/><rect x="253.5" y="314.9" width="12.6" height="1" fill="#A2A2A2"/><rect x="253.5" y="327.4" width="12.6" height="1.9" fill="#CDCDCD"/><rect x="253.5" y="332.3" width="12.6" height="1.9" fill="#A2A2A2"/><rect x="253.5" y="373.4" width="12.6" height="1" fill="#A2A2A2"/><rect x="253.5" y="378.5" width="12.6" height="1.3" fill="#A2A2A2"/><rect x="253.5" y="381.7" width="12.6" height="1" fill="#A2A2A2"/><rect x="253.5" y="384.8" width="12.6" height="1" fill="#4E4E4E"/><rect x="253.5" y="399.1" width="12.6" height="1" fill="#A2A2A2"/><rect x="266.1" y="110.2" width="12.6" height="2.1" fill="#A2A2A2"/><rect x="266.1" y="112.5" width="12.6" height="1" fill="#CDCDCD"/><rect x="266.1" y="119.8" width="12.6" height="1" fill="#A2A2A2"/><rect x="266.1" y="124.5" width="12.6" height="2.8" fill="#A2A2A2"/><rect x="266.1" y="129.5" width="12.6" height="1" fill="#A2A2A2"/><rect x="266.1" y="131.2" width="12.6" height="1" fill="#A2A2A2"/><rect x="266.1" y="132" width="12.6" height="1" fill="#A2A2A2"/><rect x="266.1" y="135.5" width="12.6" height="1.2" fill="#A2A2A2"/><rect x="266.1" y="138.6" width="12.6" height="1.2" fill="#A2A2A2"/><rect x="266.1" y="144.1" width="12.6" height="1.2" fill="#A2A2A2"/><rect x="266.1" y="179" width="12.6" height="2.5" fill="#A2A2A2"/><rect x="266.1" y="231.3" width="12.6" height="1" fill="#CDCDCD"/><rect x="266.1" y="268.4" width="12.6" height="1.2" fill="#A2A2A2"/><rect x="266.1" y="294.7" width="12.6" height="5.7" fill="#A2A2A2"/><rect x="266.1" y="305.2" width="12.6" height="1" fill="#A2A2A2"/><rect x="266.1" y="307.6" width="12.6" height="1" fill="#A2A2A2"/><rect x="266.1" y="312.7" width="12.6" height="5.6" fill="#A2A2A2"/><rect x="266.1" y="318.3" width="12.6" height="2.8" fill="#CDCDCD"/><rect x="266.1" y="321.1" width="12.6" height="8.4" fill="#A2A2A2"/><rect x="266.1" y="331.8" width="12.6" height="1" fill="#A2A2A2"/><rect x="266.1" y="340.9" width="12.6" height="1" fill="#A2A2A2"/><rect x="266.1" y="350.5" width="12.6" height="1" fill="#CDCDCD"/><rect x="266.1" y="546.5" width="12.6" height="1" fill="#A2A2A2"/><rect x="278.7" y="123.3" width="12.6" height="1" fill="#A2A2A2"/><rect x="278.7" y="127.9" width="12.6" height="1" fill="#A2A2A2"/><rect x="278.7" y="140.5" width="12.6" height="2.8" fill="#A2A2A2"/><rect x="278.7" y="146" width="12.6" height="1" fill="#A2A2A2"/><rect x="278.7" y="148.8" width="12.6" height="1" fill="#A2A2A2"/><rect x="278.7" y="156.1" width="12.6" height="1" fill="#A2A2A2"/><rect x="278.7" y="185.6" width="12.6" height="1" fill="#A2A2A2"/><rect x="278.7" y="188.2" width="12.6" height="1.5" fill="#A2A2A2"/><rect x="278.7" y="196" width="12.6" height="1" fill="#A2A2A2"/><rect x="278.7" y="220.3" width="12.6" height="5.7" fill="#A2A2A2"/><rect x="278.7" y="227.5" width="12.6" height="1" fill="#A2A2A2"/><rect x="278.7" y="252.7" width="12.6" height="1" fill="#A2A2A2"/><rect x="278.7" y="275.4" width="12.6" height="2.8" fill="#A2A2A2"/><rect x="278.7" y="295.5" width="12.6" height="1" fill="#CDCDCD"/><rect x="278.7" y="306.7" width="12.6" height="0.8" fill="#A2A2A2"/><rect x="278.7" y="310.8" width="12.6" height="1" fill="#CDCDCD"/><rect x="278.7" y="318.5" width="12.6" height="1" fill="#CDCDCD"/><rect x="278.7" y="323" width="12.6" height="1" fill="#A2A2A2"/><rect x="278.7" y="345.9" width="12.6" height="1" fill="#A2A2A2"/><rect x="278.7" y="488.9" width="12.6" height="1" fill="#A2A2A2"/><rect x="291.3" y="120.5" width="12.6" height="1" fill="#CDCDCD"/><rect x="291.3" y="124.7" width="12.6" height="1" fill="#A2A2A2"/><rect x="291.3" y="140.7" width="12.6" height="1" fill="#A2A2A2"/><rect x="291.3" y="144" width="12.6" height="1.4" fill="#A2A2A2"/><rect x="291.3" y="147" width="12.6" height="1" fill="#A2A2A2"/><rect x="291.3" y="153.3" width="12.6" height="1" fill="#CDCDCD"/><rect x="291.3" y="156.8" width="12.6" height="1" fill="#A2A2A2"/><rect x="291.3" y="163.8" width="12.6" height="1" fill="#A2A2A2"/><rect x="291.3" y="180" width="12.6" height="1" fill="#A2A2A2"/><rect x="291.3" y="222.6" width="12.6" height="1" fill="#CDCDCD"/><rect x="291.3" y="226.8" width="12.6" height="1" fill="#A2A2A2"/><rect x="291.3" y="248.8" width="12.6" height="1" fill="#A2A2A2"/><rect x="291.3" y="279.3" width="12.6" height="1" fill="#CDCDCD"/><rect x="291.3" y="304.5" width="12.6" height="1" fill="#A2A2A2"/><rect x="291.3" y="307.3" width="12.6" height="1" fill="#A2A2A2"/><rect x="291.3" y="314.3" width="12.6" height="1" fill="#A2A2A2"/><rect x="291.3" y="318.5" width="12.6" height="1" fill="#CDCDCD"/><rect x="291.3" y="321.6" width="12.6" height="1" fill="#A2A2A2"/><rect x="303.9" y="118.1" width="12.6" height="1" fill="#A2A2A2"/><rect x="303.9" y="158.9" width="12.6" height="1" fill="#A2A2A2"/><rect x="303.9" y="168.1" width="12.6" height="2.5" fill="#A2A2A2"/><rect x="303.9" y="172.2" width="12.6" height="1" fill="#A2A2A2"/><rect x="303.9" y="187.8" width="12.6" height="1" fill="#A2A2A2"/><rect x="303.9" y="231.5" width="12.6" height="1" fill="#CDCDCD"/><rect x="303.9" y="241.8" width="12.6" height="1" fill="#A2A2A2"/><rect x="303.9" y="254.8" width="12.6" height="1" fill="#A2A2A2"/><rect x="303.9" y="262.5" width="12.6" height="1" fill="#A2A2A2"/><rect x="303.9" y="296.2" width="12.6" height="1" fill="#CDCDCD"/><rect x="303.9" y="300.2" width="12.6" height="1.4" fill="#A2A2A2"/><rect x="303.9" y="323" width="12.6" height="1" fill="#A2A2A2"/><rect x="316.5" y="113.9" width="12.6" height="1.1" fill="#A2A2A2"/><rect x="316.5" y="270.7" width="12.6" height="1" fill="#A2A2A2"/><rect x="316.5" y="279.1" width="12.6" height="1.4" fill="#4E4E4E"/><rect x="316.5" y="295.5" width="12.6" height="1" fill="#A2A2A2"/><rect x="316.5" y="310.8" width="12.6" height="1" fill="#CDCDCD"/><rect x="316.5" y="314.3" width="12.6" height="1" fill="#A2A2A2"/><rect x="316.5" y="324.8" width="12.6" height="1" fill="#A2A2A2"/><rect x="329.1" y="119.5" width="12.6" height="1" fill="#CDCDCD"/><rect x="329.1" y="121.9" width="12.6" height="1" fill="#A2A2A2"/><rect x="329.1" y="124.5" width="12.6" height="2.1" fill="#A2A2A2"/><rect x="329.1" y="129.3" width="12.6" height="1" fill="#A2A2A2"/><rect x="329.1" y="131.5" width="12.6" height="1.4" fill="#A2A2A2"/><rect x="329.1" y="133.7" width="12.6" height="1" fill="#A2A2A2"/><rect x="329.1" y="263.2" width="12.6" height="1" fill="#CDCDCD"/><rect x="329.1" y="538.7" width="12.6" height="1" fill="#A2A2A2"/><rect x="329.1" y="545" width="12.6" height="1" fill="#A2A2A2"/><rect x="341.7" y="263.2" width="12.6" height="1" fill="#CDCDCD"/><rect x="341.7" y="288" width="12.6" height="1" fill="#A2A2A2"/></g><line x1="190.3" y1="74.6" x2="190.3" y2="551.0" stroke="#D8D8D8" stroke-width="0.8"/><g fill="none" stroke-linecap="butt"><path d="M56.9 78.3H107.04M57.2 79.32H106.24M57.8 80.33H107.7M57.8 82.37H107.12M58.7 85.42H107.25M56.48 87.45H107.3M60.75 93.56H108.24M60.75 94.57H107.73M72 95.59H108.7M87 96.61H107.25M87 97.63H107.66M63.15 101.69H107.97M62.91 103.73H108.38M62.91 104.75H108.02M62.66 105.76H107.95M93.35 108.81H109.31M90 110.85H108.62M62.57 112.88H108.61M62.62 113.9H108.24M62.62 114.92H108.32M62.05 115.93H108.81M62.73 116.95H109.18M63.03 117.97H108.6M63.03 118.99H108.6M77 121.02H109.78M68.5 122.04H109.72M73.27 123.05H108.67M73.27 124.07H110.22M74 127.12H109.34M72.97 129.16H109.36M74.3 131.19H109.4M74.3 132.21H109.3M73.14 136.28H109.56M73.81 137.29H110.37M73.81 138.31H110.84M72.3 139.33H111.2M72.3 140.35H110.37M72 141.36H110.98M71.45 142.38H111.39M71 143.4H111.41M101.35 146.45H110.18M102.7 147.47H110.79M102.7 148.48H110.84M98.14 150.52H109.59M98.14 151.53H109.91M90.82 152.55H110.37M87.52 153.57H109.46M80 154.59H109.27M79.08 155.6H109.17M79.08 156.62H109.47M79.24 157.64H109.69M79.24 158.65H109.23M77.43 160.69H108.94M79.37 161.71H109.08M79.37 162.72H108.95M73.68 163.74H109.24M58.3 164.76H109.55M58.3 165.77H109.31M95.43 166.79H109.4M95.43 167.81H108.96M93.68 168.83H109.16M94.58 169.84H109.73M94.58 170.86H108.8M91.47 171.88H108.51M83 173.91H109.19M64 174.93H110.03M64 175.95H109.61M62.7 176.96H108.86M81.92 179H109.72M81.5 180.01H108.89M82.86 186.12H109.46M78.92 187.13H110.05M82.5 188.15H109.91M83 190.19H110.17M83 191.2H109.38M82.74 194.25H109.66M82.74 195.27H108.95M99.53 196.29H110.19M101.01 197.3H110.1M102.7 199.34H109.12M102 200.36H109.36M102.7 201.37H109.87M102.7 203.41H109.42M102 205.44H109.96M101.11 206.46H110.01M102.7 208.49H109.34M102.7 209.51H109.93M99.55 211.54H110.8M80 212.56H109.55M86.79 213.58H110.86M86.79 214.6H109.61M84.66 215.61H110.68M90 217.65H110.59M102.29 219.68H110.15M102.7 223.75H111.1M102.7 224.77H110.19M99.74 226.8H110.09M92.51 227.82H111.37M70.83 228.84H110.96M70.83 229.85H110.24M69.72 230.87H111.12M71.17 232.9H111.01M75.7 233.92H111.03M86.18 235.96H110.11M86.18 236.97H110.19M85.11 237.99H110.1M82.79 239.01H110.38M96.84 241.04H110.62M96.84 242.06H110.86M90.05 243.08H110.96M75.7 244.09H110.84M87.72 246.13H110.48M83.27 247.14H110.48M83.27 248.16H111.05M81.38 250.2H111.56M86.62 251.21H111.75M83.1 253.25H111.58M81.63 256.3H111.8M81.89 258.33H111.45M80.12 259.35H111.45M85.15 262.4H111.47M102.7 264.44H111.83M102.7 266.47H112.37M102.7 267.49H112.21M102.7 268.5H113.54M102.7 270.54H112.59M102.7 271.56H112.62M102 272.57H111.26M102.7 273.59H111.21M102.7 274.61H111.49M91.4 276.64H111.12M95.22 278.68H110.57M82.85 279.69H110.45M89.56 282.74H109.99M89.56 283.76H111.44M90 286.81H110.85M69.96 288.85H109.78M68.5 290.88H110.22M65.6 291.9H110.28M67 292.92H109.8M66.21 294.95H109.95M93.34 295.97H109.41M93.34 296.98H110.6M96.8 298H110.12M96.8 299.02H109.65M85.44 302.07H109.22M99.96 304.1H109.68M99.96 305.12H108.87M99.35 308.17H109.01M100.91 312.24H108.55M100.79 314.28H109.53M101.46 315.29H108.58M101.46 316.31H109.26M101.46 317.33H108.67M101.46 318.34H108.46M89.83 322.41H109.7M88.86 323.43H108.68M89.47 325.46H108.62M83.38 327.5H109.61M87.46 328.52H109.68M94 330.55H108.82M88.7 332.58H109.83M90.05 333.6H109.59M93.55 335.64H108.78M94 339.7H109.26M87 342.76H110.04M86.76 343.77H109.35M86.76 344.79H109.66M81.8 345.81H109.82M86.67 346.82H110.14M62.7 349.88H109.05M69.18 350.89H108.78M71.94 351.91H108.71M73.57 352.93H109.55M75.7 354.96H108.94M85.01 355.98H109.01M85.01 357H108.96M87 360.05H109.25M85.35 365.13H109.85M86.94 366.15H109.52M86.94 367.17H108.77M83.59 368.18H108.75M83.89 369.2H109.7M83.89 370.22H108.45M84.18 371.24H108.57M88 372.25H109.06M87.48 375.3H108.65M85.26 377.34H108.76M88 379.37H108.79M88 380.39H109.29M88 382.42H109.19M78.85 384.46H108.69M85.81 387.51H108.88M85.81 388.53H108.46M85.1 389.54H108.49M90 390.56H108.84M90 391.58H109.07M82.64 392.6H108.42M85.29 393.61H108.01M89.53 395.65H108.1M59.46 398.7H107.85M60 401.75H108.25M64.49 404.8H108.07M63.7 405.82H108.52M62.33 407.85H108.22M70.55 409.89H108.47M67.53 411.92H108.08M60.71 412.94H108.36M68.38 413.96H108.18M71.42 415.99H107.49M58.3 417.01H107.8M59.2 419.04H107.2M57 420.06H108.39M66.59 421.08H108.23M66.59 422.09H107.33M68.5 423.11H107.22M68.5 424.13H107.71M64.76 425.14H106.81M64.76 426.16H107.01M68.37 428.2H107.55M68.37 429.21H106.88M66.92 430.23H107.4M66.41 433.28H106.68M68.5 434.3H107.41M68.5 435.31H107.48M68.5 436.33H107.54M68.5 437.35H107.08M68.5 439.38H107.59M75.58 442.43H107.16M69.83 443.45H106.34M75.57 445.49H106.49M75.57 446.5H105.93M75.7 449.55H106.7M83.32 450.57H106M85 452.61H105.33M82.51 453.62H105.32M85 454.64H105.37M85 455.66H105.2M82.72 456.67H105.97M85.17 457.69H105.91M83.6 460.74H105.53M84.81 462.78H105.56M83.31 463.79H104.64M85 464.81H105.51M85 465.83H105.24M80.17 466.85H104.3M63 467.86H105.18M63 468.88H105.55M76.6 469.9H105.1M83 472.95H104.44M82.64 473.97H104.37M82.56 474.98H105.16M83 476H104.38M83 477.02H104.79M81.74 478.03H105.33M75.4 481.09H104.59M80.65 482.1H104.86M82.26 483.12H104.87M82.26 484.14H105.05M78.35 485.15H104.61M63.78 486.17H104.74M64.63 487.19H104.45M62.98 489.22H104.97M70.73 491.26H104.69M70.73 492.27H104.61M72.98 494.31H104.03M77.5 495.33H104.35M77.5 496.34H104.25M76.24 497.36H104.57M74.4 499.39H104.43M77.2 501.43H104.34M76.44 502.45H105.11M77.5 503.46H105.95M77.5 504.48H104.66M66.19 506.51H105.72M60.11 508.55H106.22M60.41 510.58H105.11M59.81 511.6H105.23M82.42 513.63H105.95M81.08 515.67H106.24M77.81 516.69H106.58M70 517.7H106.22M71.02 520.75H105.85M71.02 521.77H106.33M67.12 522.79H106.15M71.56 523.81H105.85M75.37 524.82H106.39M75.37 525.84H106.33M102 530.93H106.72M102.7 531.94H107.03M102.7 532.96H106.29M95.7 534.99H106.58M60.29 537.03H107.36M59.66 539.06H107.34M60.7 540.08H106.55M61 541.1H107.11M61.3 542.11H107.27M61.6 543.13H106.55M60.27 545.17H107.27M61 546.18H107.59M61 547.2H106.58" stroke="#BBBBBB" stroke-width="0.9"/><path d="M73.91 81.35H107.26M58.1 83.39H106.38M58.7 84.4H107.41M68.04 86.44H107.57M55.8 88.47H107.08M58 89.49H108.31M58 90.51H108.38M87.73 91.52H107.23M61.08 92.54H107.4M63.15 98.64H107.93M63.15 99.66H109.02M63.15 100.68H107.72M83.88 102.71H107.78M63 106.78H108.15M63 107.8H108.28M105.28 109.83H108.28M67.78 111.87H109.27M105.59 120H109.85M73.46 125.09H109.88M73.46 126.11H109.23M74 128.14H110.43M72.63 130.17H109.2M102.12 133.23H110.77M91.13 134.24H110.51M73.57 135.26H111M102.7 144.41H110.22M102.7 145.43H111.36M100.85 149.5H111.18M95.72 159.67H108.91M91.47 172.89H109.46M90.09 177.98H109.32M68.5 181.03H109.74M83 182.05H109.24M90.47 183.07H109.57M77.51 184.08H110.09M82.86 185.1H110.21M97.04 189.17H109.12M80.57 192.22H109.55M80.57 193.24H109.75M102.7 198.32H110.49M102.7 202.39H110.42M102.7 204.42H109.98M102.7 207.48H110.31M102.7 210.53H110.82M82.48 216.63H109.5M107.37 218.66H110.37M102.29 220.7H110.24M97.04 221.72H110.61M102.7 222.73H110.93M102.7 225.78H111.19M81.74 231.89H110.53M106.13 234.94H110.78M91.77 240.02H110.82M87.72 245.11H111.53M81.38 249.18H111.68M108.5 252.23H111.5M77.33 254.26H111.65M81.63 255.28H111.81M81.89 257.32H110.98M78.37 260.37H110.84M81.57 261.38H111.54M85.15 263.42H111.53M102.7 265.45H111.56M109.74 269.52H112.74M90 275.62H111.48M95.22 277.66H110.75M82.85 280.71H110.08M82.71 281.73H111.39M107.11 284.78H110.49M94.87 285.8H110.59M90 287.83H110.39M69.96 289.86H110.54M67 293.93H110.26M94.53 300.04H110.03M94.53 301.05H110.17M96.58 303.09H108.96M98.51 306.14H108.84M97.12 307.16H109.65M102.27 309.19H110.02M102.27 310.21H109.18M101.97 311.22H109.04M106.24 313.26H109.24M96.38 319.36H108.81M92.93 320.38H109.41M89.83 321.4H109.76M89.47 324.45H108.92M87.98 326.48H109.22M87.46 329.53H109.25M94 331.57H108.41M93.55 334.62H108.8M87.35 336.65H109.66M89.85 337.67H108.99M94 338.69H109.53M81.02 340.72H109.34M106.91 341.74H109.91M86.67 347.84H109.16M99.19 348.86H108.84M73.57 353.94H110.09M83.41 358.01H109.55M83.41 359.03H110M87 361.06H109.55M86.83 362.08H108.67M86.83 363.1H109.38M86.15 364.12H109.19M88 373.27H109.84M87.48 374.29H109.66M85.57 376.32H109.16M91.76 378.36H108.99M77.37 381.41H108.33M88 383.44H108.13M58.3 385.48H109.2M58.3 386.49H108.42M89.53 394.63H108.97M105.13 396.66H108.43M76.91 397.68H107.96M59.46 399.72H109.18M60 400.73H108.99M58.47 402.77H108.13M64.49 403.78H108.09M62.33 406.84H108.05M66.41 408.87H108.63M70.55 410.9H108.87M71.42 414.97H107.27M59.2 418.02H108.58M67.47 427.18H106.91M67.41 431.25H107.44M67.41 432.26H107.02M68.5 438.37H107.6M72.07 440.4H107.6M75.58 441.42H107.01M70.12 444.47H106.47M72.82 447.52H105.94M62.7 448.54H105.98M85 451.59H105.04M85.17 458.71H105.76M91.88 459.73H104.54M84.81 461.76H104.48M81.9 470.91H105.59M83 471.93H104.96M81.74 479.05H105.46M78.7 480.07H103.92M64.63 488.21H104.97M61 490.24H104.98M70.47 493.29H104.56M87.02 498.38H104.26M77.2 500.41H105.77M69.87 505.5H105.2M69.92 507.53H106M60.41 509.57H105.85M82.42 512.62H106.47M81.08 514.65H105.6M75.14 518.72H105.7M99.15 519.74H105.99M65.94 526.86H106.59M75.7 527.87H107.18M75.7 528.89H106.55M101.5 529.91H106.71M99.8 533.98H106.83M57.6 536.01H107.15M60.29 538.05H107.27M61.6 544.15H107.3" stroke="#CDCDCD" stroke-width="0.9"/><path d="M57.8 81.35H73.91M57.8 80.33V81.35M57.5 80.84H57.8M58.7 84.4V85.42M58.4 84.91H58.7M58.4 86.44H68.04M58.4 84.91V86.44M58.1 85.67H58.4M58.1 83.39V85.67M57.8 84.53H58.1M57.8 82.37V84.53M57.5 83.45H57.8M57.5 80.84V83.45M57.2 82.15H57.5M57.2 79.32V82.15M56.9 80.73H57.2M56.9 78.3V80.73M56.48 79.52H56.9M56.48 79.52V87.45M55.8 83.49H56.48M55.8 83.49V88.47M58 89.49V90.51M61.08 91.52H87.73M61.08 91.52V92.54M60 92.03H61.08M60.75 93.56V94.57M60 94.07H60.75M60 92.03V94.07M87 96.61V97.63M72 97.12H87M72 95.59V97.12M63.15 98.64V99.66M62.85 99.15H63.15M63.15 100.68V101.69M62.85 101.19H63.15M62.85 99.15V101.19M62.25 100.17H62.85M62.25 102.71H83.88M62.25 100.17V102.71M61 101.44H62.25M62.91 103.73V104.75M61.55 104.24H62.91M63 106.78V107.8M62.66 107.29H63M62.66 105.76V107.29M61.55 106.53H62.66M61.55 104.24V106.53M61 105.38H61.55M61 101.44V105.38M93.35 109.83H105.28M93.35 108.81V109.83M90 109.32H93.35M90 109.32V110.85M62.57 111.87H67.78M62.57 111.87V112.88M61.63 112.37H62.57M62.62 113.9V114.92M61.63 114.41H62.62M61.63 112.37V114.41M61 113.39H61.63M63.03 117.97V118.99M62.73 118.48H63.03M62.73 116.95V118.48M62.05 117.71H62.73M62.05 115.93V117.71M61 116.82H62.05M61 113.39V116.82M77 120H105.59M77 120V121.02M73.27 123.05V124.07M72.46 123.56H73.27M73.46 125.09V126.11M72.46 125.6H73.46M72.46 123.56V125.6M70.27 124.58H72.46M74 127.12V128.14M72.97 127.63H74M72.97 127.63V129.16M72.16 128.39H72.97M74.3 131.19V132.21M74 131.7H74.3M74.3 133.23H102.12M74.3 134.24H91.13M74.3 133.23V134.24M74 133.73H74.3M74 131.7V133.73M73.57 132.72H74M73.57 132.72V135.26M73.14 133.99H73.57M73.14 133.99V136.28M72.63 135.13H73.14M72.63 130.17V135.13M72.16 132.65H72.63M72.16 128.39V132.65M71.57 130.52H72.16M73.81 137.29V138.31M71.57 137.8H73.81M71.57 130.52V137.8M70.27 134.16H71.57M70.27 124.58V134.16M68.5 129.37H70.27M68.5 122.04V129.37M72.3 139.33V140.35M72 139.84H72.3M72 139.84V141.36M71.45 140.6H72M71.45 140.6V142.38M71 141.49H71.45M71 141.49V143.4M102.7 144.41V145.43M101.35 144.92H102.7M101.35 144.92V146.45M97.3 145.69H101.35M102.7 147.47V148.48M100.85 147.97H102.7M100.85 147.97V149.5M97.3 148.74H100.85M97.3 145.69V148.74M92.48 147.21H97.3M98.14 150.52V151.53M92.48 151.03H98.14M92.48 147.21V151.03M90.82 149.12H92.48M90.82 149.12V152.55M87.52 150.83H90.82M87.52 150.83V153.57M80 152.2H87.52M80 152.2V154.59M79.08 155.6V156.62M73.01 156.11H79.08M79.24 157.64V158.65M77.5 158.15H79.24M77.5 159.67H95.72M77.5 158.15V159.67M73.01 158.91H77.5M73.01 156.11V158.91M70 157.51H73.01M79.37 161.71V162.72M77.43 162.21H79.37M77.43 160.69V162.21M73.68 161.45H77.43M73.68 161.45V163.74M70 162.6H73.68M70 157.51V162.6M58.3 164.76V165.77M95.43 166.79V167.81M89.59 167.3H95.43M94.58 169.84V170.86M93.68 170.35H94.58M93.68 168.83V170.35M89.59 169.59H93.68M89.59 167.3V169.59M88.41 168.44H89.59M91.47 171.88V172.89M88.41 172.39H91.47M88.41 168.44V172.39M83 170.41H88.41M83 170.41V173.91M64 174.93V175.95M62.7 175.44H64M62.7 175.44V176.96M81.92 177.98H90.09M81.92 177.98V179M81.5 178.49H81.92M81.5 178.49V180.01M83 183.07H90.47M83 182.05V183.07M77.51 182.56H83M77.51 182.56V184.08M75.54 183.32H77.51M82.86 185.1V186.12M75.54 185.61H82.86M75.54 183.32V185.61M74.01 184.46H75.54M82.5 189.17H97.04M82.5 188.15V189.17M78.92 188.66H82.5M78.92 187.13V188.66M74.01 187.9H78.92M74.01 184.46V187.9M71.46 186.18H74.01M83 190.19V191.2M79.03 190.69H83M80.57 192.22V193.24M79.03 192.73H80.57M79.03 190.69V192.73M76.37 191.71H79.03M82.74 194.25V195.27M76.37 194.76H82.74M76.37 191.71V194.76M71.46 193.24H76.37M71.46 186.18V193.24M68.5 189.71H71.46M68.5 181.03V189.71M102.7 198.32V199.34M102 198.83H102.7M102 198.83V200.36M101.01 199.59H102M101.01 197.3V199.59M99.53 198.45H101.01M99.53 196.29V198.45M94.6 197.37H99.53M102.7 201.37V202.39M97.22 201.88H102.7M102.7 203.41V204.42M102 203.92H102.7M102 203.92V205.44M100.3 204.68H102M102.7 207.48V208.49M101.5 207.98H102.7M102.7 209.51V210.53M101.5 210.02H102.7M101.5 207.98V210.02M101.11 209H101.5M101.11 206.46V209M100.3 207.73H101.11M100.3 204.68V207.73M99.55 206.2H100.3M99.55 206.2V211.54M97.22 208.87H99.55M97.22 201.88V208.87M94.6 205.38H97.22M94.6 197.37V205.38M86.79 213.58V214.6M84.66 214.09H86.79M84.66 214.09V215.61M82.48 214.85H84.66M82.48 214.85V216.63M80 215.74H82.48M80 212.56V215.74M98.65 218.66H107.37M102.29 219.68V220.7M98.65 220.19H102.29M98.65 218.66V220.19M94.01 219.43H98.65M102.7 222.73V223.75M101.5 223.24H102.7M102.7 224.77V225.78M101.5 225.28H102.7M101.5 223.24V225.28M99.74 224.26H101.5M99.74 224.26V226.8M97.04 225.53H99.74M97.04 221.72V225.53M94.01 223.62H97.04M94.01 219.43V223.62M92.51 221.53H94.01M92.51 221.53V227.82M90 224.67H92.51M90 217.65V224.67M70.83 228.84V229.85M68.5 229.34H70.83M71.17 231.89H81.74M71.17 231.89V232.9M69.72 232.4H71.17M69.72 230.87V232.4M68.5 231.63H69.72M68.5 229.34V231.63M81.89 234.94H106.13M86.18 235.96V236.97M85.11 236.46H86.18M85.11 236.46V237.99M81.89 237.23H85.11M81.89 234.94V237.23M75.7 236.08H81.89M75.7 233.92V236.08M96.84 241.04V242.06M91.77 241.55H96.84M91.77 240.02V241.55M90.05 240.79H91.77M90.05 240.79V243.08M82.79 241.93H90.05M82.79 239.01V241.93M75.7 240.47H82.79M75.7 240.47V244.09M87.72 245.11V246.13M72 245.62H87.72M83.27 247.14V248.16M78.06 247.65H83.27M81.38 249.18V250.2M78.06 249.69H81.38M78.06 247.65V249.69M72 248.67H78.06M72 245.62V248.67M86.62 252.23H108.5M86.62 251.21V252.23M83.1 251.72H86.62M83.1 251.72V253.25M77.33 252.48H83.1M77.33 252.48V254.26M68.5 253.37H77.33M81.63 255.28V256.3M68.5 255.79H81.63M68.5 253.37V255.79M81.89 257.32V258.33M80.12 257.82H81.89M80.12 257.82V259.35M78.37 258.59H80.12M78.37 258.59V260.37M71.4 259.48H78.37M85.15 262.4V263.42M81.57 262.91H85.15M81.57 261.38V262.91M71.4 262.15H81.57M71.4 259.48V262.15M102.7 264.44V265.45M100.75 264.94H102.7M102.7 266.47V267.49M100.75 266.98H102.7M100.75 264.94V266.98M99.62 265.96H100.75M102.7 269.52H109.74M102.7 268.5V269.52M99.62 269.01H102.7M99.62 265.96V269.01M96 267.49H99.62M102.7 270.54V271.56M102 271.05H102.7M102 271.05V272.57M99.26 271.81H102M102.7 273.59V274.61M99.26 274.1H102.7M99.26 271.81V274.1M96 272.95H99.26M96 267.49V272.95M95.22 277.66V278.68M91.4 278.17H95.22M91.4 276.64V278.17M90 277.4H91.4M90 275.62V277.4M82.85 279.69V280.71M80.04 280.2H82.85M89.56 282.74V283.76M82.71 283.25H89.56M82.71 281.73V283.25M80.04 282.49H82.71M80.04 280.2V282.49M77 281.35H80.04M84.26 284.78H107.11M86.95 285.8H94.87M90 286.81V287.83M86.95 287.32H90M86.95 285.8V287.32M84.26 286.56H86.95M84.26 284.78V286.56M77 285.67H84.26M77 281.35V285.67M69.96 288.85V289.86M68.5 289.36H69.96M68.5 289.36V290.88M67 292.92V293.93M66.21 293.42H67M66.21 293.42V294.95M65.6 294.19H66.21M65.6 291.9V294.19M93.34 295.97V296.98M89.8 296.48H93.34M96.8 298V299.02M89.8 298.51H96.8M89.8 296.48V298.51M80 297.49H89.8M94.53 300.04V301.05M85.44 300.54H94.53M85.44 300.54V302.07M80 301.31H85.44M80 297.49V301.31M99.96 304.1V305.12M98.51 304.61H99.96M98.51 304.61V306.14M96.58 305.38H98.51M96.58 303.09V305.38M90 304.23H96.58M102.27 309.19V310.21M101.97 309.7H102.27M101.97 309.7V311.22M100.91 310.46H101.97M100.91 310.46V312.24M99.35 311.35H100.91M99.35 308.17V311.35M97.12 309.76H99.35M97.12 307.16V309.76M96.13 308.46H97.12M99.39 313.26H106.24M101.46 315.29V316.31M100.79 315.8H101.46M100.79 314.28V315.8M99.39 315.04H100.79M99.39 313.26V315.04M96.13 314.15H99.39M96.13 308.46V314.15M94.63 311.3H96.13M101.46 317.33V318.34M96.38 317.84H101.46M96.38 317.84V319.36M94.63 318.6H96.38M94.63 311.3V318.6M92.93 314.95H94.63M92.93 314.95V320.38M90 317.66H92.93M90 304.23V317.66M89.83 321.4V322.41M88.86 321.9H89.83M88.86 321.9V323.43M86.41 322.67H88.86M89.47 324.45V325.46M87.98 324.96H89.47M87.98 324.96V326.48M86.41 325.72H87.98M86.41 322.67V325.72M83.38 324.19H86.41M83.38 324.19V327.5M80 325.85H83.38M87.46 328.52V329.53M80 329.02H87.46M80 325.85V329.02M94 330.55V331.57M77 331.06H94M93.55 334.62V335.64M90.05 335.13H93.55M90.05 333.6V335.13M88.7 334.36H90.05M88.7 332.58V334.36M87.35 333.47H88.7M87.35 333.47V336.65M86.04 335.06H87.35M94 338.69V339.7M89.85 339.2H94M89.85 337.67V339.2M86.04 338.43H89.85M86.04 335.06V338.43M81.02 336.75H86.04M81.02 336.75V340.72M77 338.73H81.02M77 331.06V338.73M87 341.74H106.91M87 341.74V342.76M84.25 342.25H87M86.76 343.77V344.79M84.25 344.28H86.76M84.25 342.25V344.28M81.8 343.26H84.25M81.8 343.26V345.81M77 344.54H81.8M86.67 346.82V347.84M81.16 347.33H86.67M81.16 348.86H99.19M81.16 347.33V348.86M77 348.1H81.16M77 344.54V348.1M73.57 352.93V353.94M71.94 353.44H73.57M71.94 351.91V353.44M69.18 352.67H71.94M69.18 350.89V352.67M62.7 351.78H69.18M62.7 349.88V351.78M85.01 355.98V357M77.32 356.49H85.01M83.41 358.01V359.03M78.98 358.52H83.41M87 360.05V361.06M80.96 360.56H87M86.83 362.08V363.1M86.15 362.59H86.83M86.15 362.59V364.12M85.35 363.35H86.15M85.35 363.35V365.13M84.26 364.24H85.35M86.94 366.15V367.17M84.26 366.66H86.94M84.26 364.24V366.66M83.59 365.45H84.26M83.59 365.45V368.18M80.96 366.82H83.59M80.96 360.56V366.82M78.98 363.69H80.96M78.98 358.52V363.69M77.32 361.1H78.98M77.32 356.49V361.1M75.7 358.8H77.32M75.7 354.96V358.8M83.89 369.2V370.22M80.98 369.71H83.89M88 372.25V373.27M86.79 372.76H88M87.48 374.29V375.3M86.79 374.8H87.48M86.79 372.76V374.8M85.57 373.78H86.79M85.57 373.78V376.32M84.18 375.05H85.57M84.18 371.24V375.05M83.31 373.14H84.18M86.45 378.36H91.76M88 379.37V380.39M86.45 379.88H88M86.45 378.36V379.88M85.26 379.12H86.45M85.26 377.34V379.12M83.31 378.23H85.26M83.31 373.14V378.23M80.98 375.69H83.31M80.98 369.71V375.69M77.37 372.7H80.98M77.37 372.7V381.41M73 377.05H77.37M88 382.42V383.44M78.85 382.93H88M78.85 382.93V384.46M73 383.7H78.85M73 377.05V383.7M58.3 385.48V386.49M85.81 387.51V388.53M79.53 388.02H85.81M90 390.56V391.58M85.1 391.07H90M85.1 389.54V391.07M82.64 390.31H85.1M82.64 390.31V392.6M79.53 391.45H82.64M79.53 388.02V391.45M77.12 389.73H79.53M89.53 394.63V395.65M85.29 395.14H89.53M85.29 393.61V395.14M77.12 394.38H85.29M77.12 389.73V394.38M75.7 392.05H77.12M75.7 396.66H105.13M75.7 392.05V396.66M57.9 397.68H76.91M59.46 398.7V399.72M57.9 399.21H59.46M57.9 397.68V399.21M57 398.44H57.9M60 400.73V401.75M58.47 401.24H60M58.47 401.24V402.77M57 402H58.47M57 398.44V402M64.49 403.78V404.8M63.7 404.29H64.49M63.7 404.29V405.82M60.24 405.06H63.7M62.33 406.84V407.85M60.24 407.34H62.33M60.24 405.06V407.34M58 406.2H60.24M58 408.87H66.41M58 406.2V408.87M70.55 409.89V410.9M67.53 410.4H70.55M67.53 410.4V411.92M60.71 411.16H67.53M60.71 411.16V412.94M57 412.05H60.71M71.42 414.97V415.99M68.38 415.48H71.42M68.38 413.96V415.48M57 414.72H68.38M57 412.05V414.72M59.2 418.02V419.04M58.3 418.53H59.2M58.3 417.01V418.53M57 417.77H58.3M57 417.77V420.06M66.59 421.08V422.09M65.11 421.58H66.59M68.5 423.11V424.13M65.11 423.62H68.5M65.11 421.58V423.62M60.18 422.6H65.11M64.76 425.14V426.16M62.67 425.65H64.76M68.37 428.2V429.21M67.47 428.7H68.37M67.47 427.18V428.7M66.92 427.94H67.47M66.92 427.94V430.23M65.86 429.09H66.92M67.41 431.25V432.26M65.86 431.75H67.41M65.86 429.09V431.75M64.84 430.42H65.86M68.5 434.3V435.31M67.84 434.81H68.5M68.5 436.33V437.35M67.84 436.84H68.5M67.84 434.81V436.84M66.41 435.82H67.84M66.41 433.28V435.82M64.84 434.55H66.41M64.84 430.42V434.55M62.67 432.49H64.84M62.67 425.65V432.49M60.18 429.07H62.67M60.18 422.6V429.07M58 425.83H60.18M68.5 438.37V439.38M58 438.87H68.5M58 425.83V438.87M75.58 441.42V442.43M72.07 441.93H75.58M72.07 440.4V441.93M69.83 441.16H72.07M69.83 441.16V443.45M66.2 442.31H69.83M75.57 445.49V446.5M72.82 445.99H75.57M72.82 445.99V447.52M70.12 446.76H72.82M70.12 444.47V446.76M66.2 445.61H70.12M66.2 442.31V445.61M62.7 443.96H66.2M62.7 443.96V448.54M85 451.59V452.61M83.32 452.1H85M83.32 450.57V452.1M82.51 451.33H83.32M82.51 451.33V453.62M79.93 452.48H82.51M85 454.64V455.66M81.18 455.15H85M85.17 457.69V458.71M84.87 458.2H85.17M84.87 459.73H91.88M84.87 458.2V459.73M83.6 458.96H84.87M83.6 458.96V460.74M82.72 459.85H83.6M82.72 456.67V459.85M81.18 458.26H82.72M81.18 455.15V458.26M79.93 456.71H81.18M79.93 452.48V456.71M78.48 454.59H79.93M84.81 461.76V462.78M82.58 462.27H84.81M85 464.81V465.83M83.31 465.32H85M83.31 463.79V465.32M82.58 464.56H83.31M82.58 462.27V464.56M80.17 463.41H82.58M80.17 463.41V466.85M78.48 465.13H80.17M78.48 454.59V465.13M75.7 459.86H78.48M75.7 449.55V459.86M63 467.86V468.88M83 471.93V472.95M82.64 472.44H83M82.64 472.44V473.97M81.9 473.2H82.64M81.9 470.91V473.2M81.15 472.06H81.9M83 476V477.02M82.56 476.51H83M82.56 474.98V476.51M81.15 475.75H82.56M81.15 472.06V475.75M80.38 473.9H81.15M81.74 478.03V479.05M80.38 478.54H81.74M80.38 473.9V478.54M78.7 476.22H80.38M78.7 476.22V480.07M76.6 478.15H78.7M76.6 469.9V478.15M75.4 474.02H76.6M75.4 474.02V481.09M74 477.55H75.4M82.26 483.12V484.14M80.65 483.63H82.26M80.65 482.1V483.63M78.35 482.87H80.65M78.35 482.87V485.15M74 484.01H78.35M74 477.55V484.01M64.63 487.19V488.21M63.78 487.7H64.63M63.78 486.17V487.7M62.98 486.93H63.78M62.98 486.93V489.22M61 488.08H62.98M61 488.08V490.24M70.73 491.26V492.27M65 491.77H70.73M77.5 495.33V496.34M76.24 495.83H77.5M76.24 495.83V497.36M72.98 496.6H76.24M72.98 494.31V496.6M70.47 495.45H72.98M70.47 493.29V495.45M68.76 494.37H70.47M72.08 498.38H87.02M77.2 500.41V501.43M76.44 500.92H77.2M76.44 500.92V502.45M75.83 501.68H76.44M77.5 503.46V504.48M75.83 503.97H77.5M75.83 501.68V503.97M74.4 502.83H75.83M74.4 499.39V502.83M72.08 501.11H74.4M72.08 498.38V501.11M69.87 499.74H72.08M69.87 499.74V505.5M68.76 502.62H69.87M68.76 494.37V502.62M66.19 498.5H68.76M66.19 498.5V506.51M65 502.51H66.19M65 491.77V502.51M59.4 507.53H69.92M60.41 509.57V510.58M60.11 510.07H60.41M60.11 508.55V510.07M59.81 509.31H60.11M59.81 509.31V511.6M59.4 510.46H59.81M59.4 507.53V510.46M82.42 512.62V513.63M75.31 513.13H82.42M81.08 514.65V515.67M77.81 515.16H81.08M77.81 515.16V516.69M75.31 515.92H77.81M75.31 513.13V515.92M70 514.52H75.31M70 514.52V517.7M75.14 519.74H99.15M75.14 518.72V519.74M63.81 519.23H75.14M71.02 520.75V521.77M67.12 521.26H71.02M67.12 521.26V522.79M63.81 522.03H67.12M63.81 519.23V522.03M59.4 520.63H63.81M75.37 524.82V525.84M71.56 525.33H75.37M71.56 523.81V525.33M63.69 524.57H71.56M75.7 527.87V528.89M65.94 528.38H75.7M65.94 526.86V528.38M63.69 527.62H65.94M63.69 524.57V527.62M59.4 526.09H63.69M59.4 520.63V526.09M102.7 531.94V532.96M102 532.45H102.7M102 530.93V532.45M101.5 531.69H102M101.5 529.91V531.69M99.8 530.8H101.5M99.8 530.8V533.98M95.7 532.39H99.8M95.7 532.39V534.99M60.29 537.03V538.05M59.11 537.54H60.29M61.6 543.13V544.15M61.3 543.64H61.6M61.3 542.11V543.64M61 542.88H61.3M61 541.1V542.88M60.7 541.99H61M60.7 540.08V541.99M60.27 541.03H60.7M60.27 541.03V545.17M59.66 543.1H60.27M59.66 539.06V543.1M59.11 541.08H59.66M59.11 537.54V541.08M58.16 539.31H59.11M61 546.18V547.2M58.16 546.69H61M58.16 539.31V546.69M57.6 543H58.16M57.6 536.01V543M55.8 90H58M55.8 93.05H60M55.8 96.35H72M55.8 85.98V96.35M57.5 103.41H61M57.5 110.09H90M57.5 115.11H61M57.5 120.51H77M57.5 125.7H68.5M57.5 142.44H71M57.5 153.39H80M57.5 160.05H70M57.5 165.27H58.3M57.5 172.16H83M57.5 176.2H62.7M57.5 103.41V176.2M58.24 179.25H81.5M58.24 185.37H68.5M58.24 201.37H94.6M58.24 179.25V201.37M58.16 214.15H80M58.16 221.16H90M58.16 230.49H68.5M58.16 235H75.7M58.16 242.28H75.7M58.16 247.14H72M58.16 254.58H68.5M58.16 260.81H71.4M58.16 270.22H96M58.16 276.51H90M58.16 283.51H77M58.16 290.12H68.5M58.16 293.04H65.6M58.16 214.15V293.04M57.43 299.4H80M57.43 310.95H90M57.43 327.43H80M57.43 334.9H77M57.43 346.32H77M57.43 350.83H62.7M57.43 299.4V350.83M58.14 356.88H75.7M58.14 380.37H73M58.14 385.98H58.3M58.14 394.36H75.7M58.14 356.88V394.36M57 407.53H58M57 400.22V418.91M58 446.25H62.7M58 454.71H75.7M58 468.37H63M58 480.78H74M58 489.16H61M58 497.14H65M58 508.99H59.4M58 516.11H70M58 523.36H59.4M58 432.35V523.36M57.6 533.69H95.7M57.6 533.69V539.51M55.8 91.17H55.8M55.8 139.8H57.5M55.8 190.31H58.24M55.8 253.6H58.16M55.8 325.11H57.43M55.8 375.62H58.14M55.8 409.57H57M55.8 477.86H58M55.8 536.6H57.6M55.8 91.17V536.6" stroke="#A5A5A5" stroke-width="0.55"/></g><rect x="53.2" y="74.6" width="304.4" height="476.4" fill="none" stroke="#6E6E6E" stroke-width="1"/><text x="-1" y="17.8" font-size="21.5" font-weight="bold">a)</text><text x="37" y="6.6" font-size="8">Number of clusters</text><rect x="37.4" y="9.5" width="13" height="11.8" fill="#9A9A9A" stroke="#000" stroke-width="1"/><text x="43.9" y="27.8" font-size="6.6" text-anchor="middle">1</text><rect x="52.6" y="9.5" width="13" height="11.8" fill="#4A4A4A" stroke="#000" stroke-width="1"/><text x="59.1" y="27.8" font-size="6.6" text-anchor="middle">2</text><rect x="67.8" y="9.5" width="13" height="11.8" fill="#000" stroke="#000" stroke-width="1"/><text x="74.3" y="27.8" font-size="6.6" text-anchor="middle">3</text><rect x="83" y="9.5" width="13" height="11.8" fill="#000" stroke="#000" stroke-width="1"/><text x="89.5" y="27.8" font-size="6.6" text-anchor="middle">4</text><text x="37" y="38.8" font-size="7.9">Fungal lifestyle</text><rect x="36.7" y="44.2" width="9.95" height="9" fill="#E78AC3"/><rect x="46.6" y="44.2" width="9.95" height="9" fill="#FC8D62"/><rect x="56.5" y="44.2" width="9.95" height="9" fill="#7AD8BC"/><rect x="66.4" y="44.2" width="9.95" height="9" fill="#B1D83C"/><rect x="76.3" y="44.2" width="9.95" height="9" fill="#8E9FD2"/><rect x="86.2" y="44.2" width="9.95" height="9" fill="#F8CD2C"/><text transform="translate(121.6,73.0) rotate(-50)" font-size="7.7">Animal pathotroph (85/70)</text><text transform="translate(134.2,73.0) rotate(-50)" font-size="7.7">Soil saprotroph (106/71)</text><text transform="translate(146.8,73.0) rotate(-50)" font-size="7.7">Plant saprotroph (247/209)</text><text transform="translate(159.4,73.0) rotate(-50)" font-size="7.7">Plant pathotroph (138/107)</text><text transform="translate(172,73.0) rotate(-50)" font-size="7.7">Plant symbiotroph (39/38)</text><text transform="translate(184.6,73.0) rotate(-50)" font-size="7.7">Endophyte (63/44)</text><text transform="translate(198.1,73.0) rotate(-50)" font-size="7.7">QDH (230/183/22)</text><text transform="translate(211.15,73.0) rotate(-50)" font-size="7.7">ARD (198/144/1)</text><text transform="translate(224.2,73.0) rotate(-50)" font-size="7.7">NAD (168/145/0)</text><text transform="translate(237.25,73.0) rotate(-50)" font-size="7.7">PAH (145/133/0)</text><text transform="translate(250.3,73.0) rotate(-50)" font-size="7.7">PMO (133/123/6)</text><text transform="translate(263.35,73.0) rotate(-50)" font-size="7.7">CCH (75/69/30)</text><text transform="translate(276.4,73.0) rotate(-50)" font-size="7.7">BPH (55/47/1)</text><text transform="translate(289.45,73.0) rotate(-50)" font-size="7.7">SAH (37/32/0)</text><text transform="translate(302.5,73.0) rotate(-50)" font-size="7.7">SDO (24/19/0)</text><text transform="translate(315.55,73.0) rotate(-50)" font-size="7.7">ECL (18/18/0)</text><text transform="translate(328.6,73.0) rotate(-50)" font-size="7.7">VAO (13/11/2)</text><text transform="translate(341.65,73.0) rotate(-50)" font-size="7.7">CAE (12/12/0)</text><text transform="translate(354.7,73.0) rotate(-50)" font-size="7.7">FAD (2/2/0)</text><text transform="translate(106.5,70.5) rotate(-50)" font-size="9.9" font-weight="bold">Fungal lifestyle</text><line x1="190.3" y1="73.8" x2="247.6" y2="3" stroke="#D2D2D2" stroke-width="0.7"/><text x="252.1" y="13.9" font-size="9.68" font-weight="bold">Gene cluster class</text><text transform="translate(26.3,78) rotate(-90)" font-size="12.3" text-anchor="middle">Sacch.1</text><text transform="translate(41.8,78) rotate(-90)" font-size="12.3" text-anchor="middle">(3/3)</text><text transform="translate(26.3,143) rotate(-90)" font-size="12.3" text-anchor="middle">Dothideo.</text><text transform="translate(41.8,143) rotate(-90)" font-size="12.3" text-anchor="middle">(89/84)</text><text transform="translate(26.3,196) rotate(-90)" font-size="12.3" text-anchor="middle">Leotio.</text><text transform="translate(41.8,196) rotate(-90)" font-size="12.3" text-anchor="middle">(37/21)</text><text transform="translate(26.3,251.5) rotate(-90)" font-size="12.3" text-anchor="middle">Sordario.</text><text transform="translate(41.8,251.5) rotate(-90)" font-size="12.3" text-anchor="middle">(89/64)</text><text transform="translate(26.3,327.3) rotate(-90)" font-size="12.3" text-anchor="middle">Eurotio.</text><text transform="translate(41.8,327.3) rotate(-90)" font-size="12.3" text-anchor="middle">(62/56)</text><text transform="translate(26.3,385) rotate(-90)" font-size="12.3" text-anchor="middle">Sacch.2</text><text transform="translate(41.8,385) rotate(-90)" font-size="12.3" text-anchor="middle">(50/42)</text><text transform="translate(26.3,480) rotate(-90)" font-size="12.3" text-anchor="middle">Agarico.</text><text transform="translate(41.8,480) rotate(-90)" font-size="12.3" text-anchor="middle">(120/108)</text><text transform="translate(9.8,227) rotate(-90)" font-size="12.1" text-anchor="middle" font-weight="bold">Pezizomycotina</text><path d="M40.2 102.8H13.5V352.6H40.2" fill="none" stroke="#555" stroke-width="0.8"/><line x1="42.4" y1="87.8" x2="50.5" y2="91.2" stroke="#555" stroke-width="0.6"/><path d="M50.6 103Q47.9 103.5 47.9 110L47.9 139.4Q47.9 143.3 45.2 143.6Q47.9 143.9 47.9 147.8L47.9 170Q47.9 176.5 50.6 177" fill="none" stroke="#505050" stroke-width="0.7"/><path d="M50.6 179.4Q47.9 179.9 47.9 185.2L47.9 193.32Q47.9 196.5 45.2 196.8Q47.9 197.1 47.9 200.14L47.9 207.93Q47.9 213 50.6 213.5" fill="none" stroke="#505050" stroke-width="0.7"/><path d="M50.6 215Q47.9 215.5 47.9 222L47.9 248.8Q47.9 252.7 45.2 253Q47.9 253.3 47.9 257.2L47.9 288.8Q47.9 295.3 50.6 295.8" fill="none" stroke="#505050" stroke-width="0.7"/><path d="M50.6 298Q47.9 298.5 47.9 305L47.9 321.8Q47.9 325.7 45.2 326Q47.9 326.3 47.9 330.2L47.9 348.8Q47.9 355.3 50.6 355.8" fill="none" stroke="#505050" stroke-width="0.7"/><path d="M50.6 357Q47.9 357.5 47.9 363.6L47.9 372.84Q47.9 376.5 45.2 376.8Q47.9 377.1 47.9 381L47.9 392.3Q47.9 398.8 50.6 399.3" fill="none" stroke="#505050" stroke-width="0.7"/><path d="M50.6 423.7Q47.9 424.2 47.9 430.7L47.9 469.8Q47.9 473.7 45.2 474Q47.9 474.3 47.9 478.2L47.9 521Q47.9 527.5 50.6 528" fill="none" stroke="#505050" stroke-width="0.7"/><text x="395.5" y="16.3" font-size="18.5" font-weight="bold">b)</text><text x="427.4" y="39.5" font-size="10.8">Enrichment significance (Pezizomycotina)</text><rect x="428" y="44.4" width="17.5" height="17.7" fill="#E3E3E3"/><text x="448.2" y="57.4" font-size="9.9">P &gt; 0.05</text><rect x="509" y="44.4" width="17.8" height="17.7" fill="#4D4D4D"/><text x="529.2" y="57.4" font-size="9.9">P ≤ 0.05</text><rect x="591.4" y="45.9" width="14.7" height="14.7" fill="#555" stroke="#000" stroke-width="3"/><text x="610" y="57.4" font-size="9.9">P ≤ 0.01</text><rect x="417.05" y="133.76" width="12" height="4.44" fill="#DCDCDC"/><rect x="433.97" y="131.3" width="12" height="6.9" fill="#DCDCDC"/><rect x="450.89" y="134.74" width="12" height="3.46" fill="#DCDCDC"/><rect x="467.81" y="134.49" width="12" height="3.71" fill="#DCDCDC"/><rect x="484.73" y="132.77" width="12" height="5.43" fill="#DCDCDC"/><rect x="501.65" y="128.34" width="12" height="9.86" fill="#DCDCDC"/><rect x="518.57" y="126.87" width="12" height="11.33" fill="#DCDCDC"/><rect x="535.49" y="132.03" width="12" height="6.17" fill="#DCDCDC"/><rect x="552.41" y="128.34" width="12" height="9.86" fill="#DCDCDC"/><rect x="569.33" y="135.23" width="12" height="2.97" fill="#DCDCDC"/><rect x="586.25" y="130.31" width="12" height="7.89" fill="#DCDCDC"/><rect x="603.17" y="136.22" width="12" height="1.98" fill="#DCDCDC"/><rect x="620.09" y="115.55" width="12" height="22.65" fill="#DCDCDC"/><line x1="412.9" y1="132.28" x2="636.3" y2="132.28" stroke="#DC4A38" stroke-width="1.4" stroke-dasharray="6.1 5.68" stroke-dashoffset="0"/><path d="M421.9 132.28H425.1M423.5 132.28V136.22M421.9 136.22H425.1" stroke="#000" stroke-width="1" fill="none"/><path d="M437.9 129.33H441.1M439.5 129.33V135.48M437.9 135.48H441.1" stroke="#000" stroke-width="1" fill="none"/><path d="M454.9 134.25H458.1M456.5 134.25V135.72M454.9 135.72H458.1" stroke="#000" stroke-width="1" fill="none"/><path d="M471.9 134H475.1M473.5 134V135.72M471.9 135.72H475.1" stroke="#000" stroke-width="1" fill="none"/><path d="M488.9 129.82H492.1M490.5 129.82V135.72M488.9 135.72H492.1" stroke="#000" stroke-width="1" fill="none"/><path d="M505.9 122.44H509.1M507.5 122.44V133.76M505.9 133.76H509.1" stroke="#000" stroke-width="1" fill="none"/><path d="M522.9 118.5H526.1M524.5 118.5V133.26M522.9 133.26H526.1" stroke="#000" stroke-width="1" fill="none"/><path d="M539.9 126.38H543.1M541.5 126.38V135.97M539.9 135.97H543.1" stroke="#000" stroke-width="1" fill="none"/><path d="M556.9 115.55H560.1M558.5 115.55V134.74M556.9 134.74H560.1" stroke="#000" stroke-width="1" fill="none"/><path d="M573.9 125.39H577.1M575.5 125.39V136.71M573.9 136.71H577.1" stroke="#000" stroke-width="1" fill="none"/><path d="M590.9 108.66H594.1M592.5 108.66V136.46M590.9 136.46H594.1" stroke="#000" stroke-width="1" fill="none"/><path d="M607.9 136.46H611.1M609.5 136.46V136.95M607.9 136.95H611.1" stroke="#000" stroke-width="1" fill="none"/><line x1="626.5" y1="75.2" x2="626.5" y2="136.46" stroke="#000" stroke-width="1"/><polygon points="626.5,73.1 627,74.51 628.5,74.55 627.31,75.46 627.73,76.9 626.5,76.05 625.27,76.9 625.69,75.46 624.5,74.55 626,74.51" fill="#111"/><path d="M412.9 77.7H636.3" stroke="#8A8A8A" stroke-width="1"/><path d="M412.9 77.7V138.3" stroke="#B0B0B0" stroke-width="1.2"/><path d="M412.29999999999995 138.3H636.3" stroke="#4A4A4A" stroke-width="1.3"/><line x1="411.59999999999997" y1="137.2" x2="412.5" y2="137.2" stroke="#333" stroke-width="0.8"/><text x="409.5" y="140.2" font-size="8.5" text-anchor="end">0</text><line x1="411.59999999999997" y1="127.36" x2="412.5" y2="127.36" stroke="#333" stroke-width="0.8"/><text x="409.5" y="130.36" font-size="8.5" text-anchor="end">2</text><line x1="411.59999999999997" y1="117.52" x2="412.5" y2="117.52" stroke="#333" stroke-width="0.8"/><text x="409.5" y="120.52" font-size="8.5" text-anchor="end">4</text><line x1="411.59999999999997" y1="107.68" x2="412.5" y2="107.68" stroke="#333" stroke-width="0.8"/><text x="409.5" y="110.68" font-size="8.5" text-anchor="end">6</text><line x1="411.59999999999997" y1="97.84" x2="412.5" y2="97.84" stroke="#333" stroke-width="0.8"/><text x="409.5" y="100.84" font-size="8.5" text-anchor="end">8</text><line x1="411.59999999999997" y1="88" x2="412.5" y2="88" stroke="#333" stroke-width="0.8"/><text x="409.5" y="91" font-size="8.5" text-anchor="end">10</text><line x1="411.59999999999997" y1="78.16" x2="412.5" y2="78.16" stroke="#333" stroke-width="0.8"/><text x="409.5" y="81.16" font-size="8.5" text-anchor="end">12</text><rect x="636.6" y="77.7" width="32" height="60.6" fill="#E78AC3" stroke="#7A7A7A" stroke-width="0.8"/><text transform="translate(657.8,108) rotate(90)" font-size="11.2" text-anchor="middle">Animal</text><text transform="translate(645,108) rotate(90)" font-size="11.2" text-anchor="middle">pathotroph</text><rect x="417.05" y="205.35" width="12" height="3.71" fill="#DCDCDC"/><rect x="433.97" y="199.2" width="12" height="9.86" fill="#DCDCDC"/><rect x="450.89" y="207.08" width="12" height="1.98" fill="#DCDCDC"/><rect x="467.81" y="206.09" width="12" height="2.97" fill="#DCDCDC"/><rect x="484.73" y="204.62" width="12" height="4.44" fill="#DCDCDC"/><rect x="501.65" y="198.71" width="12" height="10.35" fill="#DCDCDC"/><rect x="518.57" y="195.27" width="12" height="13.79" fill="#4A4A4A"/><rect x="535.49" y="204.62" width="12" height="4.44" fill="#DCDCDC"/><rect x="552.41" y="197.24" width="12" height="11.82" fill="#DCDCDC"/><rect x="569.33" y="204.62" width="12" height="4.44" fill="#DCDCDC"/><rect x="586.25" y="180.02" width="12" height="29.04" fill="#4A4A4A"/><rect x="603.17" y="207.08" width="12" height="1.98" fill="#DCDCDC"/><rect x="620.09" y="207.08" width="12" height="1.98" fill="#DCDCDC"/><line x1="412.9" y1="203.14" x2="636.3" y2="203.14" stroke="#DC4A38" stroke-width="1.4" stroke-dasharray="6.1 5.68" stroke-dashoffset="0"/><path d="M421.9 199.7H425.1M423.5 199.7V206.58M421.9 206.58H425.1" stroke="#000" stroke-width="1" fill="none"/><path d="M437.9 193.3H441.1M439.5 193.3V204.37M437.9 204.37H441.1" stroke="#000" stroke-width="1" fill="none"/><path d="M454.9 206.83H458.1M456.5 206.83V207.57M454.9 207.57H458.1" stroke="#000" stroke-width="1" fill="none"/><path d="M471.9 206.83H475.1M473.5 206.83V207.57M471.9 207.57H475.1" stroke="#000" stroke-width="1" fill="none"/><path d="M488.9 202.16H492.1M490.5 202.16V206.58M488.9 206.58H492.1" stroke="#000" stroke-width="1" fill="none"/><path d="M505.9 191.82H509.1M507.5 191.82V204.62M505.9 204.62H509.1" stroke="#000" stroke-width="1" fill="none"/><path d="M522.9 184.44H526.1M524.5 184.44V203.63M522.9 203.63H526.1" stroke="#000" stroke-width="1" fill="none"/><path d="M539.9 197.73H543.1M541.5 197.73V206.83M539.9 206.83H543.1" stroke="#000" stroke-width="1" fill="none"/><path d="M556.9 181.49H560.1M558.5 181.49V204.62M556.9 204.62H560.1" stroke="#000" stroke-width="1" fill="none"/><path d="M573.9 193.3H577.1M575.5 193.3V207.57M573.9 207.57H577.1" stroke="#000" stroke-width="1" fill="none"/><line x1="592.5" y1="146.06" x2="592.5" y2="203.39" stroke="#000" stroke-width="1"/><polygon points="592.5,143.96 593,145.37 594.5,145.41 593.31,146.32 593.73,147.76 592.5,146.91 591.27,147.76 591.69,146.32 590.5,145.41 592,145.37" fill="#111"/><path d="M607.9 206.83H611.1M609.5 206.83V207.57M607.9 207.57H611.1" stroke="#000" stroke-width="1" fill="none"/><path d="M624.9 206.83H628.1M626.5 206.83V207.57M624.9 207.57H628.1" stroke="#000" stroke-width="1" fill="none"/><path d="M412.9 148.56H636.3" stroke="#8A8A8A" stroke-width="1"/><path d="M412.9 148.56V209.16" stroke="#B0B0B0" stroke-width="1.2"/><path d="M412.29999999999995 209.16H636.3" stroke="#4A4A4A" stroke-width="1.3"/><line x1="411.59999999999997" y1="208.06" x2="412.5" y2="208.06" stroke="#333" stroke-width="0.8"/><text x="409.5" y="211.06" font-size="8.5" text-anchor="end">0</text><line x1="411.59999999999997" y1="198.22" x2="412.5" y2="198.22" stroke="#333" stroke-width="0.8"/><text x="409.5" y="201.22" font-size="8.5" text-anchor="end">2</text><line x1="411.59999999999997" y1="188.38" x2="412.5" y2="188.38" stroke="#333" stroke-width="0.8"/><text x="409.5" y="191.38" font-size="8.5" text-anchor="end">4</text><line x1="411.59999999999997" y1="178.54" x2="412.5" y2="178.54" stroke="#333" stroke-width="0.8"/><text x="409.5" y="181.54" font-size="8.5" text-anchor="end">6</text><line x1="411.59999999999997" y1="168.7" x2="412.5" y2="168.7" stroke="#333" stroke-width="0.8"/><text x="409.5" y="171.7" font-size="8.5" text-anchor="end">8</text><line x1="411.59999999999997" y1="158.86" x2="412.5" y2="158.86" stroke="#333" stroke-width="0.8"/><text x="409.5" y="161.86" font-size="8.5" text-anchor="end">10</text><line x1="411.59999999999997" y1="149.02" x2="412.5" y2="149.02" stroke="#333" stroke-width="0.8"/><text x="409.5" y="152.02" font-size="8.5" text-anchor="end">12</text><rect x="636.6" y="148.56" width="32" height="60.6" fill="#FC8D62" stroke="#7A7A7A" stroke-width="0.8"/><text transform="translate(657.8,178.86) rotate(90)" font-size="11.2" text-anchor="middle">Soil</text><text transform="translate(645,178.86) rotate(90)" font-size="11.2" text-anchor="middle">saprotroph</text><rect x="417.05" y="275.23" width="12" height="4.69" fill="#DCDCDC"/><rect x="433.97" y="274.49" width="12" height="5.43" fill="#DCDCDC"/><rect x="450.89" y="274.49" width="12" height="5.43" fill="#DCDCDC"/><rect x="467.81" y="267.85" width="12" height="12.07" fill="#4A4A4A"/><rect x="484.73" y="269.57" width="12" height="10.35" fill="#DCDCDC"/><rect x="501.65" y="274.49" width="12" height="5.43" fill="#DCDCDC"/><rect x="518.57" y="271.54" width="12" height="8.38" fill="#DCDCDC"/><rect x="535.49" y="273.02" width="12" height="6.9" fill="#DCDCDC"/><rect x="552.41" y="273.51" width="12" height="6.41" fill="#DCDCDC"/><rect x="569.33" y="275.97" width="12" height="3.95" fill="#DCDCDC"/><rect x="586.25" y="274" width="12" height="5.92" fill="#DCDCDC"/><rect x="604.57" y="240.08" width="9.2" height="38.14" fill="#474747" stroke="#000" stroke-width="3"/><rect x="620.09" y="278.18" width="12" height="1.74" fill="#DCDCDC"/><line x1="412.9" y1="274" x2="636.3" y2="274" stroke="#DC4A38" stroke-width="1.4" stroke-dasharray="6.1 5.68" stroke-dashoffset="0"/><path d="M421.9 270.56H425.1M423.5 270.56V276.71M421.9 276.71H425.1" stroke="#000" stroke-width="1" fill="none"/><path d="M437.9 273.51H441.1M439.5 273.51V277.44M437.9 277.44H441.1" stroke="#000" stroke-width="1" fill="none"/><path d="M454.9 270.06H458.1M456.5 270.06V276.71M454.9 276.71H458.1" stroke="#000" stroke-width="1" fill="none"/><path d="M471.9 261.7H475.1M473.5 261.7V274.49M471.9 274.49H475.1" stroke="#000" stroke-width="1" fill="none"/><path d="M488.9 264.16H492.1M490.5 264.16V274.49M488.9 274.49H492.1" stroke="#000" stroke-width="1" fill="none"/><path d="M505.9 271.54H509.1M507.5 271.54V277.44M505.9 277.44H509.1" stroke="#000" stroke-width="1" fill="none"/><path d="M522.9 265.14H526.1M524.5 265.14V275.97M522.9 275.97H526.1" stroke="#000" stroke-width="1" fill="none"/><path d="M539.9 265.14H543.1M541.5 265.14V277.2M539.9 277.2H543.1" stroke="#000" stroke-width="1" fill="none"/><path d="M556.9 265.14H560.1M558.5 265.14V277.94M556.9 277.94H560.1" stroke="#000" stroke-width="1" fill="none"/><path d="M573.9 270.56H577.1M575.5 270.56V278.43M573.9 278.43H577.1" stroke="#000" stroke-width="1" fill="none"/><path d="M590.9 260.72H594.1M592.5 260.72V278.18M590.9 278.18H594.1" stroke="#000" stroke-width="1" fill="none"/><line x1="609.5" y1="216.92" x2="609.5" y2="272.52" stroke="#000" stroke-width="1"/><polygon points="609.5,214.82 610,216.23 611.5,216.27 610.31,217.18 610.73,218.62 609.5,217.77 608.27,218.62 608.69,217.18 607.5,216.27 609,216.23" fill="#111"/><path d="M624.9 278.18H628.1M626.5 278.18V278.67M624.9 278.67H628.1" stroke="#000" stroke-width="1" fill="none"/><path d="M412.9 219.42H636.3" stroke="#8A8A8A" stroke-width="1"/><path d="M412.9 219.42V280.02" stroke="#B0B0B0" stroke-width="1.2"/><path d="M412.29999999999995 280.02H636.3" stroke="#4A4A4A" stroke-width="1.3"/><line x1="411.59999999999997" y1="278.92" x2="412.5" y2="278.92" stroke="#333" stroke-width="0.8"/><text x="409.5" y="281.92" font-size="8.5" text-anchor="end">0</text><line x1="411.59999999999997" y1="269.08" x2="412.5" y2="269.08" stroke="#333" stroke-width="0.8"/><text x="409.5" y="272.08" font-size="8.5" text-anchor="end">2</text><line x1="411.59999999999997" y1="259.24" x2="412.5" y2="259.24" stroke="#333" stroke-width="0.8"/><text x="409.5" y="262.24" font-size="8.5" text-anchor="end">4</text><line x1="411.59999999999997" y1="249.4" x2="412.5" y2="249.4" stroke="#333" stroke-width="0.8"/><text x="409.5" y="252.4" font-size="8.5" text-anchor="end">6</text><line x1="411.59999999999997" y1="239.56" x2="412.5" y2="239.56" stroke="#333" stroke-width="0.8"/><text x="409.5" y="242.56" font-size="8.5" text-anchor="end">8</text><line x1="411.59999999999997" y1="229.72" x2="412.5" y2="229.72" stroke="#333" stroke-width="0.8"/><text x="409.5" y="232.72" font-size="8.5" text-anchor="end">10</text><line x1="411.59999999999997" y1="219.88" x2="412.5" y2="219.88" stroke="#333" stroke-width="0.8"/><text x="409.5" y="222.88" font-size="8.5" text-anchor="end">12</text><rect x="636.6" y="219.42" width="32" height="60.6" fill="#7AD8BC" stroke="#7A7A7A" stroke-width="0.8"/><text transform="translate(657.8,249.72) rotate(90)" font-size="11.2" text-anchor="middle">Plant</text><text transform="translate(645,249.72) rotate(90)" font-size="11.2" text-anchor="middle">saprotroph</text><rect x="417.05" y="338.22" width="12" height="12.56" fill="#4A4A4A"/><rect x="435.37" y="334.31" width="9.2" height="14.77" fill="#474747" stroke="#000" stroke-width="3"/><rect x="450.89" y="342.15" width="12" height="8.63" fill="#DCDCDC"/><rect x="467.81" y="343.88" width="12" height="6.9" fill="#DCDCDC"/><rect x="486.13" y="339.23" width="9.2" height="9.85" fill="#474747" stroke="#000" stroke-width="3"/><rect x="501.65" y="340.92" width="12" height="9.86" fill="#DCDCDC"/><rect x="518.57" y="346.34" width="12" height="4.44" fill="#DCDCDC"/><rect x="535.49" y="340.68" width="12" height="10.1" fill="#DCDCDC"/><rect x="552.41" y="338.46" width="12" height="12.32" fill="#DCDCDC"/><rect x="569.33" y="335.02" width="12" height="15.76" fill="#4A4A4A"/><rect x="586.25" y="329.85" width="12" height="20.93" fill="#DCDCDC"/><rect x="603.17" y="346.34" width="12" height="4.44" fill="#DCDCDC"/><rect x="620.09" y="339.94" width="12" height="10.84" fill="#DCDCDC"/><line x1="412.9" y1="344.86" x2="636.3" y2="344.86" stroke="#DC4A38" stroke-width="1.4" stroke-dasharray="6.1 5.68" stroke-dashoffset="0"/><path d="M421.9 329.61H425.1M423.5 329.61V344.86M421.9 344.86H425.1" stroke="#000" stroke-width="1" fill="none"/><path d="M437.9 321.74H441.1M439.5 321.74V342.4M437.9 342.4H441.1" stroke="#000" stroke-width="1" fill="none"/><path d="M454.9 338.46H458.1M456.5 338.46V347.07M454.9 347.07H458.1" stroke="#000" stroke-width="1" fill="none"/><path d="M471.9 340.92H475.1M473.5 340.92V347.07M471.9 347.07H475.1" stroke="#000" stroke-width="1" fill="none"/><path d="M488.9 330.59H492.1M490.5 330.59V343.38M488.9 343.38H492.1" stroke="#000" stroke-width="1" fill="none"/><path d="M505.9 335.02H509.1M507.5 335.02V345.35M505.9 345.35H509.1" stroke="#000" stroke-width="1" fill="none"/><path d="M522.9 344.86H526.1M524.5 344.86V348.8M522.9 348.8H526.1" stroke="#000" stroke-width="1" fill="none"/><path d="M539.9 332.56H543.1M541.5 332.56V346.34M539.9 346.34H543.1" stroke="#000" stroke-width="1" fill="none"/><path d="M556.9 323.21H560.1M558.5 323.21V346.34M556.9 346.34H560.1" stroke="#000" stroke-width="1" fill="none"/><path d="M573.9 312.88H577.1M575.5 312.88V344.86M573.9 344.86H577.1" stroke="#000" stroke-width="1" fill="none"/><line x1="592.5" y1="287.78" x2="592.5" y2="344.86" stroke="#000" stroke-width="1"/><polygon points="592.5,285.68 593,287.09 594.5,287.13 593.31,288.04 593.73,289.48 592.5,288.63 591.27,289.48 591.69,288.04 590.5,287.13 592,287.09" fill="#111"/><path d="M607.9 335.51H611.1M609.5 335.51V349.53M607.9 349.53H611.1" stroke="#000" stroke-width="1" fill="none"/><line x1="626.5" y1="287.78" x2="626.5" y2="349.68" stroke="#000" stroke-width="1"/><polygon points="626.5,285.68 627,287.09 628.5,287.13 627.31,288.04 627.73,289.48 626.5,288.63 625.27,289.48 625.69,288.04 624.5,287.13 626,287.09" fill="#111"/><path d="M412.9 290.28H636.3" stroke="#8A8A8A" stroke-width="1"/><path d="M412.9 290.28V350.88" stroke="#B0B0B0" stroke-width="1.2"/><path d="M412.29999999999995 350.88H636.3" stroke="#4A4A4A" stroke-width="1.3"/><line x1="411.59999999999997" y1="349.78" x2="412.5" y2="349.78" stroke="#333" stroke-width="0.8"/><text x="409.5" y="352.78" font-size="8.5" text-anchor="end">0</text><line x1="411.59999999999997" y1="339.94" x2="412.5" y2="339.94" stroke="#333" stroke-width="0.8"/><text x="409.5" y="342.94" font-size="8.5" text-anchor="end">2</text><line x1="411.59999999999997" y1="330.1" x2="412.5" y2="330.1" stroke="#333" stroke-width="0.8"/><text x="409.5" y="333.1" font-size="8.5" text-anchor="end">4</text><line x1="411.59999999999997" y1="320.26" x2="412.5" y2="320.26" stroke="#333" stroke-width="0.8"/><text x="409.5" y="323.26" font-size="8.5" text-anchor="end">6</text><line x1="411.59999999999997" y1="310.42" x2="412.5" y2="310.42" stroke="#333" stroke-width="0.8"/><text x="409.5" y="313.42" font-size="8.5" text-anchor="end">8</text><line x1="411.59999999999997" y1="300.58" x2="412.5" y2="300.58" stroke="#333" stroke-width="0.8"/><text x="409.5" y="303.58" font-size="8.5" text-anchor="end">10</text><line x1="411.59999999999997" y1="290.74" x2="412.5" y2="290.74" stroke="#333" stroke-width="0.8"/><text x="409.5" y="293.74" font-size="8.5" text-anchor="end">12</text><rect x="636.6" y="290.28" width="32" height="60.6" fill="#B1D83C" stroke="#7A7A7A" stroke-width="0.8"/><text transform="translate(657.8,320.58) rotate(90)" font-size="11.2" text-anchor="middle">Plant</text><text transform="translate(645,320.58) rotate(90)" font-size="11.2" text-anchor="middle">pathotroph</text><rect x="417.05" y="393.58" width="12" height="28.06" fill="#DCDCDC"/><rect x="435.02" y="361.14" width="9.9" height="60.5" fill="#4A4A4A"/><rect x="450.89" y="373.41" width="12" height="48.23" fill="#4A4A4A"/><rect x="467.81" y="412.28" width="12" height="9.36" fill="#DCDCDC"/><rect x="484.73" y="420.15" width="12" height="1.49" fill="#DCDCDC"/><rect x="501.65" y="411.78" width="12" height="9.86" fill="#DCDCDC"/><rect x="518.57" y="415.23" width="12" height="6.41" fill="#DCDCDC"/><rect x="535.49" y="413.26" width="12" height="8.38" fill="#DCDCDC"/><rect x="552.41" y="420.15" width="12" height="1.49" fill="#DCDCDC"/><rect x="569.33" y="420.15" width="12" height="1.49" fill="#DCDCDC"/><rect x="586.25" y="420.15" width="12" height="1.49" fill="#DCDCDC"/><rect x="603.17" y="420.15" width="12" height="1.49" fill="#DCDCDC"/><rect x="620.09" y="420.15" width="12" height="1.49" fill="#DCDCDC"/><line x1="412.9" y1="415.72" x2="636.3" y2="415.72" stroke="#DC4A38" stroke-width="1.4" stroke-dasharray="6.1 5.68" stroke-dashoffset="0"/><path d="M421.9 420.15H425.1M423.5 420.15V420.64M421.9 420.64H425.1" stroke="#000" stroke-width="1" fill="none"/><path d="M437.9 420.15H441.1M439.5 420.15V420.64M437.9 420.64H441.1" stroke="#000" stroke-width="1" fill="none"/><text x="439.5" y="360.34" font-size="7" text-anchor="middle">+</text><path d="M454.9 420.15H458.1M456.5 420.15V420.64M454.9 420.64H458.1" stroke="#000" stroke-width="1" fill="none"/><path d="M471.9 385.22H475.1M473.5 385.22V419.66M471.9 419.66H475.1" stroke="#000" stroke-width="1" fill="none"/><path d="M488.9 420.15H492.1M490.5 420.15V420.64M488.9 420.64H492.1" stroke="#000" stroke-width="1" fill="none"/><path d="M505.9 378.33H509.1M507.5 378.33V419.66M505.9 419.66H509.1" stroke="#000" stroke-width="1" fill="none"/><path d="M522.9 384.23H526.1M524.5 384.23V420.54M522.9 420.54H526.1" stroke="#000" stroke-width="1" fill="none"/><path d="M539.9 363.57H543.1M541.5 363.57V420.54M539.9 420.54H543.1" stroke="#000" stroke-width="1" fill="none"/><path d="M556.9 420.15H560.1M558.5 420.15V420.64M556.9 420.64H560.1" stroke="#000" stroke-width="1" fill="none"/><path d="M573.9 420.15H577.1M575.5 420.15V420.64M573.9 420.64H577.1" stroke="#000" stroke-width="1" fill="none"/><path d="M590.9 420.15H594.1M592.5 420.15V420.64M590.9 420.64H594.1" stroke="#000" stroke-width="1" fill="none"/><path d="M607.9 420.15H611.1M609.5 420.15V420.64M607.9 420.64H611.1" stroke="#000" stroke-width="1" fill="none"/><path d="M624.9 420.15H628.1M626.5 420.15V420.64M624.9 420.64H628.1" stroke="#000" stroke-width="1" fill="none"/><path d="M412.9 361.14H636.3" stroke="#8A8A8A" stroke-width="1"/><path d="M412.9 361.14V421.74" stroke="#B0B0B0" stroke-width="1.2"/><path d="M412.29999999999995 421.74H636.3" stroke="#4A4A4A" stroke-width="1.3"/><line x1="411.59999999999997" y1="420.64" x2="412.5" y2="420.64" stroke="#333" stroke-width="0.8"/><text x="409.5" y="423.64" font-size="8.5" text-anchor="end">0</text><line x1="411.59999999999997" y1="410.8" x2="412.5" y2="410.8" stroke="#333" stroke-width="0.8"/><text x="409.5" y="413.8" font-size="8.5" text-anchor="end">2</text><line x1="411.59999999999997" y1="400.96" x2="412.5" y2="400.96" stroke="#333" stroke-width="0.8"/><text x="409.5" y="403.96" font-size="8.5" text-anchor="end">4</text><line x1="411.59999999999997" y1="391.12" x2="412.5" y2="391.12" stroke="#333" stroke-width="0.8"/><text x="409.5" y="394.12" font-size="8.5" text-anchor="end">6</text><line x1="411.59999999999997" y1="381.28" x2="412.5" y2="381.28" stroke="#333" stroke-width="0.8"/><text x="409.5" y="384.28" font-size="8.5" text-anchor="end">8</text><line x1="411.59999999999997" y1="371.44" x2="412.5" y2="371.44" stroke="#333" stroke-width="0.8"/><text x="409.5" y="374.44" font-size="8.5" text-anchor="end">10</text><line x1="411.59999999999997" y1="361.6" x2="412.5" y2="361.6" stroke="#333" stroke-width="0.8"/><text x="409.5" y="364.6" font-size="8.5" text-anchor="end">12</text><rect x="636.6" y="361.14" width="32" height="60.6" fill="#8E9FD2" stroke="#7A7A7A" stroke-width="0.8"/><text transform="translate(657.8,391.44) rotate(90)" font-size="11.2" text-anchor="middle">Plant</text><text transform="translate(645,391.44) rotate(90)" font-size="11.2" text-anchor="middle">symbiotroph</text><rect x="417.05" y="484.37" width="12" height="8.13" fill="#DCDCDC"/><rect x="433.97" y="485.35" width="12" height="7.15" fill="#DCDCDC"/><rect x="450.89" y="483.63" width="12" height="8.87" fill="#DCDCDC"/><rect x="467.81" y="482.15" width="12" height="10.35" fill="#DCDCDC"/><rect x="484.73" y="488.06" width="12" height="4.44" fill="#DCDCDC"/><rect x="501.65" y="483.14" width="12" height="9.36" fill="#DCDCDC"/><rect x="518.57" y="489.53" width="12" height="2.97" fill="#DCDCDC"/><rect x="535.49" y="483.38" width="12" height="9.12" fill="#DCDCDC"/><rect x="552.41" y="487.81" width="12" height="4.69" fill="#DCDCDC"/><rect x="569.33" y="484.37" width="12" height="8.13" fill="#DCDCDC"/><rect x="586.25" y="466.9" width="12" height="25.6" fill="#4A4A4A"/><rect x="603.17" y="483.38" width="12" height="9.12" fill="#DCDCDC"/><rect x="621.14" y="432" width="9.9" height="60.5" fill="#4A4A4A"/><line x1="412.9" y1="486.58" x2="636.3" y2="486.58" stroke="#DC4A38" stroke-width="1.4" stroke-dasharray="6.1 5.68" stroke-dashoffset="0"/><path d="M421.9 479.2H425.1M423.5 479.2V489.29M421.9 489.29H425.1" stroke="#000" stroke-width="1" fill="none"/><path d="M437.9 480.68H441.1M439.5 480.68V489.29M437.9 489.29H441.1" stroke="#000" stroke-width="1" fill="none"/><path d="M454.9 477.48H458.1M456.5 477.48V488.55M454.9 488.55H458.1" stroke="#000" stroke-width="1" fill="none"/><path d="M471.9 475.26H475.1M473.5 475.26V488.06M471.9 488.06H475.1" stroke="#000" stroke-width="1" fill="none"/><path d="M488.9 483.63H492.1M490.5 483.63V490.52M488.9 490.52H492.1" stroke="#000" stroke-width="1" fill="none"/><path d="M505.9 475.76H509.1M507.5 475.76V488.55M505.9 488.55H509.1" stroke="#000" stroke-width="1" fill="none"/><path d="M522.9 487.07H526.1M524.5 487.07V491.01M522.9 491.01H526.1" stroke="#000" stroke-width="1" fill="none"/><path d="M539.9 472.8H543.1M541.5 472.8V489.29M539.9 489.29H543.1" stroke="#000" stroke-width="1" fill="none"/><path d="M556.9 477.72H560.1M558.5 477.72V490.52M556.9 490.52H560.1" stroke="#000" stroke-width="1" fill="none"/><path d="M573.9 470.34H577.1M575.5 470.34V490.52M573.9 490.52H577.1" stroke="#000" stroke-width="1" fill="none"/><line x1="592.5" y1="429.5" x2="592.5" y2="486.58" stroke="#000" stroke-width="1"/><polygon points="592.5,427.4 593,428.81 594.5,428.85 593.31,429.76 593.73,431.2 592.5,430.35 591.27,431.2 591.69,429.76 590.5,428.85 592,428.81" fill="#111"/><path d="M607.9 458.54H611.1M609.5 458.54V490.52M607.9 490.52H611.1" stroke="#000" stroke-width="1" fill="none"/><text x="626.5" y="431.2" font-size="7" text-anchor="middle">+</text><path d="M412.9 432H636.3" stroke="#8A8A8A" stroke-width="1"/><path d="M412.9 432V492.6" stroke="#B0B0B0" stroke-width="1.2"/><path d="M412.29999999999995 492.6H636.3" stroke="#4A4A4A" stroke-width="1.3"/><line x1="411.59999999999997" y1="491.5" x2="412.5" y2="491.5" stroke="#333" stroke-width="0.8"/><text x="409.5" y="494.5" font-size="8.5" text-anchor="end">0</text><line x1="411.59999999999997" y1="481.66" x2="412.5" y2="481.66" stroke="#333" stroke-width="0.8"/><text x="409.5" y="484.66" font-size="8.5" text-anchor="end">2</text><line x1="411.59999999999997" y1="471.82" x2="412.5" y2="471.82" stroke="#333" stroke-width="0.8"/><text x="409.5" y="474.82" font-size="8.5" text-anchor="end">4</text><line x1="411.59999999999997" y1="461.98" x2="412.5" y2="461.98" stroke="#333" stroke-width="0.8"/><text x="409.5" y="464.98" font-size="8.5" text-anchor="end">6</text><line x1="411.59999999999997" y1="452.14" x2="412.5" y2="452.14" stroke="#333" stroke-width="0.8"/><text x="409.5" y="455.14" font-size="8.5" text-anchor="end">8</text><line x1="411.59999999999997" y1="442.3" x2="412.5" y2="442.3" stroke="#333" stroke-width="0.8"/><text x="409.5" y="445.3" font-size="8.5" text-anchor="end">10</text><line x1="411.59999999999997" y1="432.46" x2="412.5" y2="432.46" stroke="#333" stroke-width="0.8"/><text x="409.5" y="435.46" font-size="8.5" text-anchor="end">12</text><rect x="636.6" y="432" width="32" height="60.6" fill="#F8CD2C" stroke="#7A7A7A" stroke-width="0.8"/><text transform="translate(657.8,462.3) rotate(90)" font-size="11.2" text-anchor="middle">Endophyte</text><line x1="423.05" y1="492.6" x2="423.05" y2="495.4" stroke="#333" stroke-width="0.8"/><line x1="439.97" y1="492.6" x2="439.97" y2="495.4" stroke="#333" stroke-width="0.8"/><line x1="456.89" y1="492.6" x2="456.89" y2="495.4" stroke="#333" stroke-width="0.8"/><line x1="473.81" y1="492.6" x2="473.81" y2="495.4" stroke="#333" stroke-width="0.8"/><line x1="490.73" y1="492.6" x2="490.73" y2="495.4" stroke="#333" stroke-width="0.8"/><line x1="507.65" y1="492.6" x2="507.65" y2="495.4" stroke="#333" stroke-width="0.8"/><line x1="524.57" y1="492.6" x2="524.57" y2="495.4" stroke="#333" stroke-width="0.8"/><line x1="541.49" y1="492.6" x2="541.49" y2="495.4" stroke="#333" stroke-width="0.8"/><line x1="558.41" y1="492.6" x2="558.41" y2="495.4" stroke="#333" stroke-width="0.8"/><line x1="575.33" y1="492.6" x2="575.33" y2="495.4" stroke="#333" stroke-width="0.8"/><line x1="592.25" y1="492.6" x2="592.25" y2="495.4" stroke="#333" stroke-width="0.8"/><line x1="609.17" y1="492.6" x2="609.17" y2="495.4" stroke="#333" stroke-width="0.8"/><line x1="626.09" y1="492.6" x2="626.09" y2="495.4" stroke="#333" stroke-width="0.8"/><text transform="translate(428.75,504.6) rotate(-47)" font-size="11" text-anchor="end">QDH</text><text transform="translate(445.67,504.6) rotate(-47)" font-size="11" text-anchor="end">ARD</text><text transform="translate(462.59,504.6) rotate(-47)" font-size="11" text-anchor="end">NAD</text><text transform="translate(479.51,504.6) rotate(-47)" font-size="11" text-anchor="end">PAH</text><text transform="translate(496.43,504.6) rotate(-47)" font-size="11" text-anchor="end">PMO</text><text transform="translate(513.35,504.6) rotate(-47)" font-size="11" text-anchor="end">CCH</text><text transform="translate(530.27,504.6) rotate(-47)" font-size="11" text-anchor="end">BPH</text><text transform="translate(547.19,504.6) rotate(-47)" font-size="11" text-anchor="end">SAH</text><text transform="translate(564.11,504.6) rotate(-47)" font-size="11" text-anchor="end">SDO</text><text transform="translate(581.03,504.6) rotate(-47)" font-size="11" text-anchor="end">ECL</text><text transform="translate(597.95,504.6) rotate(-47)" font-size="11" text-anchor="end">VAO</text><text transform="translate(614.87,504.6) rotate(-47)" font-size="11" text-anchor="end">CAE</text><text transform="translate(631.79,504.6) rotate(-47)" font-size="11" text-anchor="end">FAD</text><text x="408" y="540.2" font-size="11" font-weight="bold">Gene cluster class</text><text transform="translate(395,289) rotate(-90)" font-size="11.5" font-weight="bold" text-anchor="middle">Odds ratio</text><text transform="translate(676,285.5) rotate(90)" font-size="11" font-weight="bold" text-anchor="middle">Fungal lifestyle</text><text x="566.6" y="534.6" font-size="8.2"><tspan font-size="6" dy="-1.8">*</tspan><tspan dy="1.8">upper 95% CI out of range</tspan></text><text x="566.6" y="544.3" font-size="8.2"><tspan font-size="5" dy="-2.6">+</tspan><tspan dy="2.6" dx="0.2">odds ratio out of range</tspan></text></svg></body></html>
